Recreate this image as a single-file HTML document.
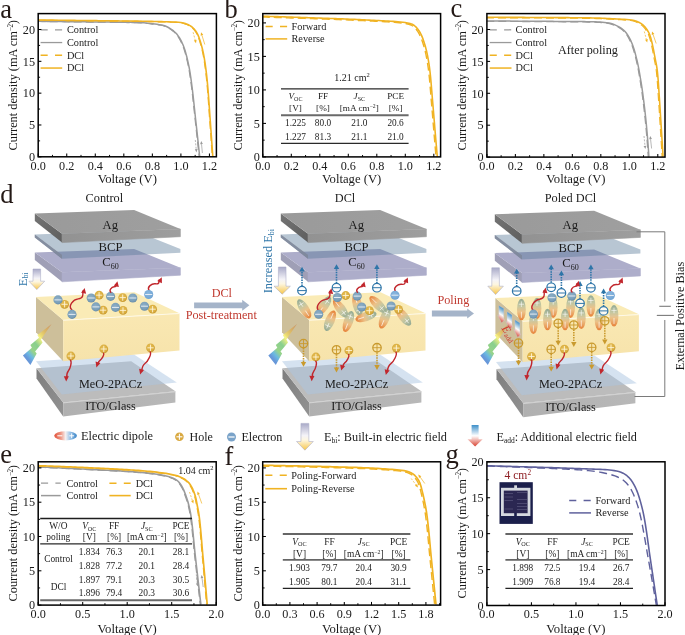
<!DOCTYPE html>
<html><head><meta charset="utf-8"><title>figure</title>
<style>
html,body{margin:0;padding:0;background:#fff;}
body{width:685px;height:635px;overflow:hidden;font-family:"Liberation Serif",serif;}
svg{display:block;font-family:"Liberation Serif",serif;will-change:transform;}
</style></head><body>
<svg width="685" height="635" viewBox="0 0 685 635">
<rect width="685" height="635" fill="#fff"/>
<defs>

<linearGradient id="gItoL" x1="0" y1="0" x2="1" y2="1"><stop offset="0" stop-color="#7e7e7e"/><stop offset="1" stop-color="#929292"/></linearGradient>
<linearGradient id="gAgL" x1="0" y1="0" x2="1" y2="1"><stop offset="0" stop-color="#747474"/><stop offset="1" stop-color="#5e5e5e"/></linearGradient>
<linearGradient id="gAgF" x1="0" y1="0" x2="1" y2="0"><stop offset="0" stop-color="#929292"/><stop offset="1" stop-color="#9e9e9e"/></linearGradient>
<linearGradient id="gAgT" x1="0" y1="0" x2="1" y2="0"><stop offset="0" stop-color="#9a9a9a"/><stop offset="1" stop-color="#9f9f9f"/></linearGradient>
<linearGradient id="gItoF" x1="0" y1="0" x2="1" y2="0"><stop offset="0" stop-color="#b0b0b0"/><stop offset="1" stop-color="#b8b8b8"/></linearGradient>
<linearGradient id="gPvF" x1="0" y1="0" x2="0" y2="1"><stop offset="0" stop-color="#f9e7b0"/><stop offset="1" stop-color="#f6e2a8"/></linearGradient>
<linearGradient id="gEbi" x1="0" y1="0" x2="0" y2="1"><stop offset="0" stop-color="#a9aac8"/><stop offset="0.45" stop-color="#f4f3f8"/><stop offset="0.62" stop-color="#fdf6e0"/><stop offset="1" stop-color="#f7c64a"/></linearGradient>
<linearGradient id="gEadd" x1="0" y1="0" x2="0" y2="1"><stop offset="0" stop-color="#3d8fc9"/><stop offset="0.5" stop-color="#ffffff"/><stop offset="1" stop-color="#d8402f"/></linearGradient>
<linearGradient id="gBolt" gradientUnits="userSpaceOnUse" x1="52" y1="326" x2="22" y2="352"><stop offset="0" stop-color="#c9773c" stop-opacity="0.55"/><stop offset="0.22" stop-color="#e3b54a" stop-opacity="0.7"/><stop offset="0.42" stop-color="#f6f17a"/><stop offset="0.6" stop-color="#7fcb84"/><stop offset="0.78" stop-color="#8fd07f"/><stop offset="0.9" stop-color="#5fb4e0"/><stop offset="1" stop-color="#5b8fd6"/></linearGradient>
<radialGradient id="gEl" cx="0.45" cy="0.4" r="0.62"><stop offset="0" stop-color="#8eb0c8"/><stop offset="0.7" stop-color="#7a9fb9"/><stop offset="1" stop-color="#668aa6"/></radialGradient>
<radialGradient id="gEl2" cx="0.45" cy="0.4" r="0.6"><stop offset="0" stop-color="#8db9e0"/><stop offset="1" stop-color="#6fa3d3"/></radialGradient>
<radialGradient id="gHo" cx="0.45" cy="0.4" r="0.62"><stop offset="0" stop-color="#e8c158"/><stop offset="0.7" stop-color="#d9ad3f"/><stop offset="1" stop-color="#c4952c"/></radialGradient>
<linearGradient id="gDip" x1="0" y1="0" x2="1" y2="0"><stop offset="0" stop-color="#86a291" stop-opacity="0.92"/><stop offset="0.35" stop-color="#b9bf9c" stop-opacity="0.8"/><stop offset="0.6" stop-color="#e9b77c" stop-opacity="0.8"/><stop offset="1" stop-color="#e67a30" stop-opacity="0.95"/></linearGradient>
<linearGradient id="gDipL" x1="0" y1="0" x2="1" y2="0"><stop offset="0" stop-color="#e2523a"/><stop offset="0.3" stop-color="#ee9a88"/><stop offset="0.5" stop-color="#f6f1f1"/><stop offset="0.7" stop-color="#9cc4e8"/><stop offset="1" stop-color="#3a84c6"/></linearGradient>

</defs>
<g transform="translate(0,0)">
<polygon points="36.5,368.3 63.2,402.4 63.2,416.5 36.5,378.6" fill="url(#gItoL)" />
<polygon points="63.2,402.4 175.4,391.3 175.4,402.6 63.2,416.5" fill="url(#gItoF)" />
<polygon points="36.5,368.3 131.2,361.3 175.4,391.3 63.2,402.4" fill="#bcbcbc" />
<line x1="63.2" y1="402.9" x2="175.4" y2="391.8" stroke="#d6d6d6" stroke-width="0.9" />
<polygon points="36,361.3 134,354.5 176.8,382.5 61.8,394.6" fill="rgb(172,198,225)" fill-opacity="0.5"/>
<polygon points="36,297 63.2,320 63.2,361.3 36,332.2" fill="#cdbf9a" />
<polygon points="63.2,320 179.5,313.2 179.5,350.6 63.2,361.3" fill="url(#gPvF)" fill-opacity="0.97"/>
<polygon points="36,297 134.5,292.3 179.5,313.2 63.2,320" fill="#faebb6" />
<line x1="63.2" y1="320.3" x2="179.5" y2="313.5" stroke="#fffdf2" stroke-width="0.8" />
<polygon points="34.8,252.4 62,272.3 62,281.8 34.8,260.1" fill="#9f9fb6" />
<polygon points="62,272.3 180.4,267.7 180.4,275.2 62,281.8" fill="#adadca"  stroke="#adadca" stroke-width="0.6"/>
<polygon points="34.8,252.4 134.1,248.9 180.4,267.7 62,272.3" fill="#adadca" />
<polygon points="34.8,234.4 62,254.9 62,258.7 34.8,237.6" fill="rgb(60,75,100)" fill-opacity="0.42"/>
<polygon points="34.8,234.4 134.1,230.6 180.4,248.9 180.4,252.7 62,258.7 62,254.9" fill="rgb(85,118,150)" fill-opacity="0.42"/>
<polygon points="34.8,234.4 62,254.9 62,258.7 34.8,237.6" fill="#7f8a9c" fill-opacity="0.9"/>
<polygon points="34.8,213.5 62,233.8 62,242.6 34.8,221.1" fill="url(#gAgL)" />
<polygon points="62,233.8 180.4,229 180.4,236.7 62,242.6" fill="url(#gAgF)"  stroke="url(#gAgF)" stroke-width="0.6"/>
<polygon points="34.8,213.5 134.1,210.1 180.4,229 62,233.8" fill="url(#gAgT)" />
<text x="110.3" y="228.6" font-size="12.6" text-anchor="middle" fill="#1a1a1a" >Ag</text>
<text x="110.5" y="251" font-size="12.6" text-anchor="middle" fill="#1a1a1a" >BCP</text>
<text x="110.5" y="266.4" font-size="12.6" text-anchor="middle" fill="#1a1a1a">C<tspan font-size="8" dy="2.6">60</tspan></text>
<text x="110.5" y="387.5" font-size="12.2" text-anchor="middle" fill="#1a1a1a" >MeO-2PACz</text>
<text x="110.5" y="410.2" font-size="12.2" text-anchor="middle" fill="#1a1a1a" >ITO/Glass</text>
</g>
<text x="104.4" y="202.4" font-size="12.3" text-anchor="middle" fill="#1a1a1a" >Control</text>
<polygon transform="translate(0,0)" points="51.6,324.1 37.4,335.1 39,337.8 30.4,344.9 31.9,347.7 22.9,355.6 30.4,365 36.7,353.6 35.1,351.6 42.6,342.6 41,339.4" fill="url(#gBolt)" fill-opacity="0.92"/>
<polygon points="33,269 40.6,269 40.6,281.2 44.7,281.2 36.8,289.6 28.9,281.2 33,281.2" fill="url(#gEbi)" stroke="#a9abc6" stroke-width="0.55"/>
<text transform="translate(26.7,286.3) rotate(-90)" font-size="12.6" fill="#2e75a8">E<tspan font-size="7.8" dy="1.5">bi</tspan></text>
<circle cx="64.6" cy="304.3" r="4.4" fill="url(#gHo)"/>
<line x1="61.43" y1="304.3" x2="67.77" y2="304.3" stroke="#fff6dc" stroke-width="0.85" />
<line x1="64.6" y1="301.13" x2="64.6" y2="307.47" stroke="#fff6dc" stroke-width="0.85" />
<circle cx="99.1" cy="295.2" r="4.4" fill="url(#gHo)"/>
<line x1="95.93" y1="295.2" x2="102.27" y2="295.2" stroke="#fff6dc" stroke-width="0.85" />
<line x1="99.1" y1="292.03" x2="99.1" y2="298.37" stroke="#fff6dc" stroke-width="0.85" />
<circle cx="103.1" cy="310.2" r="4.4" fill="url(#gHo)"/>
<line x1="99.93" y1="310.2" x2="106.27" y2="310.2" stroke="#fff6dc" stroke-width="0.85" />
<line x1="103.1" y1="307.03" x2="103.1" y2="313.37" stroke="#fff6dc" stroke-width="0.85" />
<circle cx="122.7" cy="297.6" r="4.4" fill="url(#gHo)"/>
<line x1="119.53" y1="297.6" x2="125.87" y2="297.6" stroke="#fff6dc" stroke-width="0.85" />
<line x1="122.7" y1="294.43" x2="122.7" y2="300.77" stroke="#fff6dc" stroke-width="0.85" />
<circle cx="123" cy="310.4" r="4.4" fill="url(#gHo)"/>
<line x1="119.83" y1="310.4" x2="126.17" y2="310.4" stroke="#fff6dc" stroke-width="0.85" />
<line x1="123" y1="307.23" x2="123" y2="313.57" stroke="#fff6dc" stroke-width="0.85" />
<circle cx="152.6" cy="309.2" r="4.4" fill="url(#gHo)"/>
<line x1="149.43" y1="309.2" x2="155.77" y2="309.2" stroke="#fff6dc" stroke-width="0.85" />
<line x1="152.6" y1="306.03" x2="152.6" y2="312.37" stroke="#fff6dc" stroke-width="0.85" />
<circle cx="58" cy="299.9" r="4.55" fill="url(#gEl)"/>
<line x1="54.45" y1="299.9" x2="61.55" y2="299.9" stroke="#eef3f7" stroke-width="0.9" />
<circle cx="91.2" cy="298" r="4.55" fill="url(#gEl)"/>
<line x1="87.65" y1="298" x2="94.75" y2="298" stroke="#eef3f7" stroke-width="0.9" />
<circle cx="95.9" cy="306.9" r="4.55" fill="url(#gEl)"/>
<line x1="92.35" y1="306.9" x2="99.45" y2="306.9" stroke="#eef3f7" stroke-width="0.9" />
<circle cx="110.6" cy="296.4" r="4.55" fill="url(#gEl)"/>
<line x1="107.05" y1="296.4" x2="114.15" y2="296.4" stroke="#eef3f7" stroke-width="0.9" />
<circle cx="115.5" cy="307.4" r="4.55" fill="url(#gEl)"/>
<line x1="111.95" y1="307.4" x2="119.05" y2="307.4" stroke="#eef3f7" stroke-width="0.9" />
<circle cx="132.8" cy="298" r="4.55" fill="url(#gEl)"/>
<line x1="129.25" y1="298" x2="136.35" y2="298" stroke="#eef3f7" stroke-width="0.9" />
<circle cx="144.5" cy="306.2" r="4.55" fill="url(#gEl)"/>
<line x1="140.95" y1="306.2" x2="148.05" y2="306.2" stroke="#eef3f7" stroke-width="0.9" />
<path d="M71.8 309.8 C67.64 305.89 73.18 299.47 78.2 298.9 C83.22 298.33 83.33 295.16 82.69 291.26" fill="none" stroke="#c1272d" stroke-width="1.4" stroke-linecap="round"/>
<polygon points="84.6,288 86.12,293.77 81.11,292.84" fill="#c1272d" />
<circle cx="72" cy="314.4" r="4.55" fill="url(#gEl)"/>
<line x1="68.45" y1="314.4" x2="75.55" y2="314.4" stroke="#eef3f7" stroke-width="0.9" />
<path d="M110.8 292.2 C108.71 290.2 111.55 286.96 114.1 286.7 C116.65 286.44 115.76 286.42 115.46 284.44" fill="none" stroke="#c1272d" stroke-width="1.4" stroke-linecap="round"/>
<polygon points="117.4,281.2 118.87,286.99 113.86,286.01" fill="#c1272d" />
<path d="M149 290.4 C146.74 286.92 151.75 283.34 155.4 283.8 C159.05 284.26 158.95 282.78 159.17 279.91" fill="none" stroke="#c1272d" stroke-width="1.4" stroke-linecap="round"/>
<polygon points="161.8,277.2 161.91,283.17 157.26,281.08" fill="#c1272d" />
<circle cx="148.7" cy="294.5" r="4.55" fill="url(#gEl2)"/>
<line x1="145.15" y1="294.5" x2="152.25" y2="294.5" stroke="#eef3f7" stroke-width="0.9" />
<circle cx="70.9" cy="356" r="4.4" fill="url(#gHo)"/>
<line x1="67.73" y1="356" x2="74.07" y2="356" stroke="#fff6dc" stroke-width="0.85" />
<line x1="70.9" y1="352.83" x2="70.9" y2="359.17" stroke="#fff6dc" stroke-width="0.85" />
<circle cx="103.8" cy="349" r="4.4" fill="url(#gHo)"/>
<line x1="100.63" y1="349" x2="106.97" y2="349" stroke="#fff6dc" stroke-width="0.85" />
<line x1="103.8" y1="345.83" x2="103.8" y2="352.17" stroke="#fff6dc" stroke-width="0.85" />
<circle cx="150.5" cy="347.8" r="4.4" fill="url(#gHo)"/>
<line x1="147.33" y1="347.8" x2="153.67" y2="347.8" stroke="#fff6dc" stroke-width="0.85" />
<line x1="150.5" y1="344.63" x2="150.5" y2="350.97" stroke="#fff6dc" stroke-width="0.85" />
<path d="M70.4 360.3 C72.16 361.75 70.24 368.68 68.3 370.95 C66.36 373.22 66.54 375.16 66.93 377.89" fill="none" stroke="#c1272d" stroke-width="1.4" stroke-linecap="round"/>
<polygon points="66.2,381.6 63.79,376.13 68.89,376.27" fill="#c1272d" />
<path d="M103.6 353.3 C104.54 354.67 101.81 359.14 100 360.35 C98.19 361.56 98.39 362.04 98.12 364.03" fill="none" stroke="#c1272d" stroke-width="1.4" stroke-linecap="round"/>
<polygon points="96.4,367.4 95.58,361.48 100.45,363.01" fill="#c1272d" />
<path d="M150.2 352 C151.79 354.05 147.92 361.26 145.2 363.3 C142.48 365.34 141.98 368.01 141.73 371.14" fill="none" stroke="#c1272d" stroke-width="1.4" stroke-linecap="round"/>
<polygon points="140.2,374.6 139.05,368.74 144,369.99" fill="#c1272d" />
<polygon points="194.1,302.4 242.2,302.4 242.2,299.8 249.4,305.3 242.2,310.8 242.2,308.2 194.1,308.2" fill="#a5b4c9" />
<text x="221.8" y="297.3" font-size="12.2" text-anchor="middle" fill="#c0392f" >DCl</text>
<text x="221.3" y="319.3" font-size="12.2" text-anchor="middle" fill="#c0392f" >Post-treatment</text>
<g transform="translate(0,0)">
<polygon points="282.5,368.3 309.2,402.4 309.2,416.5 282.5,378.6" fill="url(#gItoL)" />
<polygon points="309.2,402.4 421.4,391.3 421.4,402.6 309.2,416.5" fill="url(#gItoF)" />
<polygon points="282.5,368.3 377.2,361.3 421.4,391.3 309.2,402.4" fill="#bcbcbc" />
<line x1="309.2" y1="402.9" x2="421.4" y2="391.8" stroke="#d6d6d6" stroke-width="0.9" />
<polygon points="282,361.3 380,354.5 422.8,382.5 307.8,394.6" fill="rgb(172,198,225)" fill-opacity="0.5"/>
<polygon points="282,297 309.2,320 309.2,361.3 282,332.2" fill="#cdbf9a" />
<polygon points="309.2,320 425.5,313.2 425.5,350.6 309.2,361.3" fill="url(#gPvF)" fill-opacity="0.97"/>
<polygon points="282,297 380.5,292.3 425.5,313.2 309.2,320" fill="#faebb6" />
<line x1="309.2" y1="320.3" x2="425.5" y2="313.5" stroke="#fffdf2" stroke-width="0.8" />
<polygon points="280.8,252.4 308,272.3 308,281.8 280.8,260.1" fill="#9f9fb6" />
<polygon points="308,272.3 426.4,267.7 426.4,275.2 308,281.8" fill="#adadca"  stroke="#adadca" stroke-width="0.6"/>
<polygon points="280.8,252.4 380.1,248.9 426.4,267.7 308,272.3" fill="#adadca" />
<polygon points="280.8,234.4 308,254.9 308,258.7 280.8,237.6" fill="rgb(60,75,100)" fill-opacity="0.42"/>
<polygon points="280.8,234.4 380.1,230.6 426.4,248.9 426.4,252.7 308,258.7 308,254.9" fill="rgb(85,118,150)" fill-opacity="0.42"/>
<polygon points="280.8,234.4 308,254.9 308,258.7 280.8,237.6" fill="#7f8a9c" fill-opacity="0.9"/>
<polygon points="280.8,213.5 308,233.8 308,242.6 280.8,221.1" fill="url(#gAgL)" />
<polygon points="308,233.8 426.4,229 426.4,236.7 308,242.6" fill="url(#gAgF)"  stroke="url(#gAgF)" stroke-width="0.6"/>
<polygon points="280.8,213.5 380.1,210.1 426.4,229 308,233.8" fill="url(#gAgT)" />
<text x="356.3" y="228.6" font-size="12.6" text-anchor="middle" fill="#1a1a1a" >Ag</text>
<text x="356.5" y="251" font-size="12.6" text-anchor="middle" fill="#1a1a1a" >BCP</text>
<text x="356.5" y="266.4" font-size="12.6" text-anchor="middle" fill="#1a1a1a">C<tspan font-size="8" dy="2.6">60</tspan></text>
<text x="356.5" y="387.5" font-size="12.2" text-anchor="middle" fill="#1a1a1a" >MeO-2PACz</text>
<text x="356.5" y="410.2" font-size="12.2" text-anchor="middle" fill="#1a1a1a" >ITO/Glass</text>
</g>
<text x="345" y="202.4" font-size="12.3" text-anchor="middle" fill="#1a1a1a" >DCl</text>
<polygon transform="translate(245.4,0)" points="51.6,324.1 37.4,335.1 39,337.8 30.4,344.9 31.9,347.7 22.9,355.6 30.4,365 36.7,353.6 35.1,351.6 42.6,342.6 41,339.4" fill="url(#gBolt)" fill-opacity="0.92"/>
<polygon points="278.4,267 286,267 286,286.2 290.4,286.2 282.2,294.2 274,286.2 278.4,286.2" fill="url(#gEbi)" stroke="#a9abc6" stroke-width="0.55"/>
<text transform="translate(272.2,293.3) rotate(-90)" font-size="12.4" fill="#2e75a8">Increased E<tspan font-size="7.8" dy="1.6">bi</tspan></text>
<g transform="translate(304.2,308.8) rotate(57)">
<ellipse cx="0" cy="0" rx="11" ry="4.7" fill="url(#gDip)"/>
<line x1="-8.36" y1="0" x2="-2.64" y2="0" stroke="#fff" stroke-opacity="0.75" stroke-width="0.8"/>
<line x1="-5.5" y1="-2.82" x2="-5.5" y2="2.82" stroke="#fff" stroke-opacity="0.75" stroke-width="0.8"/>
<line x1="2.2" y1="0" x2="8.36" y2="0" stroke="#fff" stroke-opacity="0.8" stroke-width="0.8"/>
</g>
<g transform="translate(323.9,305.8) rotate(125)">
<ellipse cx="0" cy="0" rx="11" ry="4.7" fill="url(#gDip)"/>
<line x1="-8.36" y1="0" x2="-2.64" y2="0" stroke="#fff" stroke-opacity="0.75" stroke-width="0.8"/>
<line x1="-5.5" y1="-2.82" x2="-5.5" y2="2.82" stroke="#fff" stroke-opacity="0.75" stroke-width="0.8"/>
<line x1="2.2" y1="0" x2="8.36" y2="0" stroke="#fff" stroke-opacity="0.8" stroke-width="0.8"/>
</g>
<g transform="translate(330,320.7) rotate(-67)">
<ellipse cx="0" cy="0" rx="11" ry="4.7" fill="url(#gDip)"/>
<line x1="-8.36" y1="0" x2="-2.64" y2="0" stroke="#fff" stroke-opacity="0.75" stroke-width="0.8"/>
<line x1="-5.5" y1="-2.82" x2="-5.5" y2="2.82" stroke="#fff" stroke-opacity="0.75" stroke-width="0.8"/>
<line x1="2.2" y1="0" x2="8.36" y2="0" stroke="#fff" stroke-opacity="0.8" stroke-width="0.8"/>
</g>
<g transform="translate(340.5,308.4) rotate(233)">
<ellipse cx="0" cy="0" rx="11" ry="4.7" fill="url(#gDip)"/>
<line x1="-8.36" y1="0" x2="-2.64" y2="0" stroke="#fff" stroke-opacity="0.75" stroke-width="0.8"/>
<line x1="-5.5" y1="-2.82" x2="-5.5" y2="2.82" stroke="#fff" stroke-opacity="0.75" stroke-width="0.8"/>
<line x1="2.2" y1="0" x2="8.36" y2="0" stroke="#fff" stroke-opacity="0.8" stroke-width="0.8"/>
</g>
<g transform="translate(348.4,321.5) rotate(110)">
<ellipse cx="0" cy="0" rx="11" ry="4.7" fill="url(#gDip)"/>
<line x1="-8.36" y1="0" x2="-2.64" y2="0" stroke="#fff" stroke-opacity="0.75" stroke-width="0.8"/>
<line x1="-5.5" y1="-2.82" x2="-5.5" y2="2.82" stroke="#fff" stroke-opacity="0.75" stroke-width="0.8"/>
<line x1="2.2" y1="0" x2="8.36" y2="0" stroke="#fff" stroke-opacity="0.8" stroke-width="0.8"/>
</g>
<g transform="translate(357.5,305) rotate(255)">
<ellipse cx="0" cy="0" rx="11" ry="4.7" fill="url(#gDip)"/>
<line x1="-8.36" y1="0" x2="-2.64" y2="0" stroke="#fff" stroke-opacity="0.75" stroke-width="0.8"/>
<line x1="-5.5" y1="-2.82" x2="-5.5" y2="2.82" stroke="#fff" stroke-opacity="0.75" stroke-width="0.8"/>
<line x1="2.2" y1="0" x2="8.36" y2="0" stroke="#fff" stroke-opacity="0.8" stroke-width="0.8"/>
</g>
<g transform="translate(366,316.6) rotate(162)">
<ellipse cx="0" cy="0" rx="11" ry="4.7" fill="url(#gDip)"/>
<line x1="-8.36" y1="0" x2="-2.64" y2="0" stroke="#fff" stroke-opacity="0.75" stroke-width="0.8"/>
<line x1="-5.5" y1="-2.82" x2="-5.5" y2="2.82" stroke="#fff" stroke-opacity="0.75" stroke-width="0.8"/>
<line x1="2.2" y1="0" x2="8.36" y2="0" stroke="#fff" stroke-opacity="0.8" stroke-width="0.8"/>
</g>
<g transform="translate(377.8,304.4) rotate(225)">
<ellipse cx="0" cy="0" rx="11" ry="4.7" fill="url(#gDip)"/>
<line x1="-8.36" y1="0" x2="-2.64" y2="0" stroke="#fff" stroke-opacity="0.75" stroke-width="0.8"/>
<line x1="-5.5" y1="-2.82" x2="-5.5" y2="2.82" stroke="#fff" stroke-opacity="0.75" stroke-width="0.8"/>
<line x1="2.2" y1="0" x2="8.36" y2="0" stroke="#fff" stroke-opacity="0.8" stroke-width="0.8"/>
</g>
<g transform="translate(384.7,318.2) rotate(112)">
<ellipse cx="0" cy="0" rx="11" ry="4.7" fill="url(#gDip)"/>
<line x1="-8.36" y1="0" x2="-2.64" y2="0" stroke="#fff" stroke-opacity="0.75" stroke-width="0.8"/>
<line x1="-5.5" y1="-2.82" x2="-5.5" y2="2.82" stroke="#fff" stroke-opacity="0.75" stroke-width="0.8"/>
<line x1="2.2" y1="0" x2="8.36" y2="0" stroke="#fff" stroke-opacity="0.8" stroke-width="0.8"/>
</g>
<g transform="translate(403.5,316.6) rotate(232)">
<ellipse cx="0" cy="0" rx="11" ry="4.7" fill="url(#gDip)"/>
<line x1="-8.36" y1="0" x2="-2.64" y2="0" stroke="#fff" stroke-opacity="0.75" stroke-width="0.8"/>
<line x1="-5.5" y1="-2.82" x2="-5.5" y2="2.82" stroke="#fff" stroke-opacity="0.75" stroke-width="0.8"/>
<line x1="2.2" y1="0" x2="8.36" y2="0" stroke="#fff" stroke-opacity="0.8" stroke-width="0.8"/>
</g>
<circle cx="345.7" cy="295.5" r="4.4" fill="url(#gHo)"/>
<line x1="342.53" y1="295.5" x2="348.87" y2="295.5" stroke="#fff6dc" stroke-width="0.85" />
<line x1="345.7" y1="292.33" x2="345.7" y2="298.67" stroke="#fff6dc" stroke-width="0.85" />
<circle cx="369.4" cy="310.7" r="4.4" fill="url(#gHo)"/>
<line x1="366.23" y1="310.7" x2="372.57" y2="310.7" stroke="#fff6dc" stroke-width="0.85" />
<line x1="369.4" y1="307.53" x2="369.4" y2="313.87" stroke="#fff6dc" stroke-width="0.85" />
<circle cx="398.5" cy="309.3" r="4.4" fill="url(#gHo)"/>
<line x1="395.33" y1="309.3" x2="401.67" y2="309.3" stroke="#fff6dc" stroke-width="0.85" />
<line x1="398.5" y1="306.13" x2="398.5" y2="312.47" stroke="#fff6dc" stroke-width="0.85" />
<circle cx="337.4" cy="297.5" r="4.55" fill="url(#gEl)"/>
<line x1="333.85" y1="297.5" x2="340.95" y2="297.5" stroke="#eef3f7" stroke-width="0.9" />
<circle cx="357.2" cy="296.1" r="4.55" fill="url(#gEl)"/>
<line x1="353.65" y1="296.1" x2="360.75" y2="296.1" stroke="#eef3f7" stroke-width="0.9" />
<circle cx="361.7" cy="307" r="4.55" fill="url(#gEl)"/>
<line x1="358.15" y1="307" x2="365.25" y2="307" stroke="#eef3f7" stroke-width="0.9" />
<circle cx="391.1" cy="306" r="4.55" fill="url(#gEl)"/>
<line x1="387.55" y1="306" x2="394.65" y2="306" stroke="#eef3f7" stroke-width="0.9" />
<line x1="302" y1="286.1" x2="302" y2="270.6" stroke="#2e75a8" stroke-width="1.6" stroke-dasharray="1.5 1.0"/>
<polygon points="302,266.8 299.3,271.6 304.7,271.6" fill="#2e75a8" />
<circle cx="302" cy="290.6" r="4.3" fill="#fdfdfd" fill-opacity="0.85" stroke="#2e75a8" stroke-width="1.2"/>
<line x1="297.7" y1="290.6" x2="306.3" y2="290.6" stroke="#2e75a8" stroke-width="1.0" />
<line x1="336.5" y1="283.2" x2="336.5" y2="268" stroke="#2e75a8" stroke-width="1.6" stroke-dasharray="1.5 1.0"/>
<polygon points="336.5,264.2 333.8,269 339.2,269" fill="#2e75a8" />
<circle cx="336.5" cy="287.7" r="4.3" fill="#fdfdfd" fill-opacity="0.85" stroke="#2e75a8" stroke-width="1.2"/>
<line x1="332.2" y1="287.7" x2="340.8" y2="287.7" stroke="#2e75a8" stroke-width="1.0" />
<line x1="376.9" y1="283.2" x2="376.9" y2="268" stroke="#2e75a8" stroke-width="1.6" stroke-dasharray="1.5 1.0"/>
<polygon points="376.9,264.2 374.2,269 379.6,269" fill="#2e75a8" />
<circle cx="376.9" cy="287.7" r="4.3" fill="#fdfdfd" fill-opacity="0.85" stroke="#2e75a8" stroke-width="1.2"/>
<line x1="372.6" y1="287.7" x2="381.2" y2="287.7" stroke="#2e75a8" stroke-width="1.0" />
<path d="M318.9 311 C314.51 307.11 320 300.34 325.15 299.6 C330.3 298.86 330.36 295.5 329.58 291.51" fill="none" stroke="#c1272d" stroke-width="1.4" stroke-linecap="round"/>
<polygon points="331.4,288.2 333.09,293.93 328.05,293.14" fill="#c1272d" />
<circle cx="318.7" cy="314.3" r="4.55" fill="url(#gEl)"/>
<line x1="315.15" y1="314.3" x2="322.25" y2="314.3" stroke="#eef3f7" stroke-width="0.9" />
<path d="M357.4 292.2 C355.37 290.12 358.33 286.98 360.9 286.8 C363.47 286.62 362.58 286.57 362.34 284.57" fill="none" stroke="#c1272d" stroke-width="1.4" stroke-linecap="round"/>
<polygon points="364.4,281.4 365.67,287.24 360.7,286.08" fill="#c1272d" />
<path d="M395.3 291.2 C392.89 287.76 397.84 283.96 401.55 284.3 C405.26 284.64 405.14 283.11 405.26 280.2" fill="none" stroke="#c1272d" stroke-width="1.4" stroke-linecap="round"/>
<polygon points="407.8,277.4 408.11,283.36 403.39,281.43" fill="#c1272d" />
<circle cx="395" cy="295.2" r="4.55" fill="url(#gEl2)"/>
<line x1="391.45" y1="295.2" x2="398.55" y2="295.2" stroke="#eef3f7" stroke-width="0.9" />
<line x1="303.5" y1="348.1" x2="303.5" y2="363" stroke="#c99a2e" stroke-width="1.6" stroke-dasharray="1.5 1.0"/>
<polygon points="303.5,366.8 300.8,362 306.2,362" fill="#c99a2e" />
<circle cx="303.5" cy="343.6" r="4.2" fill="none" stroke="#c99a2e" stroke-width="1.3"/>
<line x1="299.3" y1="343.6" x2="307.7" y2="343.6" stroke="#c99a2e" stroke-width="0.9" />
<line x1="303.5" y1="339.4" x2="303.5" y2="347.8" stroke="#c99a2e" stroke-width="0.9" />
<line x1="336.5" y1="354.3" x2="336.5" y2="368.6" stroke="#c99a2e" stroke-width="1.6" stroke-dasharray="1.5 1.0"/>
<polygon points="336.5,372.4 333.8,367.6 339.2,367.6" fill="#c99a2e" />
<circle cx="336.5" cy="349.8" r="4.2" fill="none" stroke="#c99a2e" stroke-width="1.3"/>
<line x1="332.3" y1="349.8" x2="340.7" y2="349.8" stroke="#c99a2e" stroke-width="0.9" />
<line x1="336.5" y1="345.6" x2="336.5" y2="354" stroke="#c99a2e" stroke-width="0.9" />
<line x1="377" y1="352.2" x2="377" y2="366.1" stroke="#c99a2e" stroke-width="1.6" stroke-dasharray="1.5 1.0"/>
<polygon points="377,369.9 374.3,365.1 379.7,365.1" fill="#c99a2e" />
<circle cx="377" cy="347.7" r="4.2" fill="none" stroke="#c99a2e" stroke-width="1.3"/>
<line x1="372.8" y1="347.7" x2="381.2" y2="347.7" stroke="#c99a2e" stroke-width="0.9" />
<line x1="377" y1="343.5" x2="377" y2="351.9" stroke="#c99a2e" stroke-width="0.9" />
<circle cx="315.9" cy="357" r="4.4" fill="url(#gHo)"/>
<line x1="312.73" y1="357" x2="319.07" y2="357" stroke="#fff6dc" stroke-width="0.85" />
<line x1="315.9" y1="353.83" x2="315.9" y2="360.17" stroke="#fff6dc" stroke-width="0.85" />
<circle cx="348.9" cy="350.5" r="4.4" fill="url(#gHo)"/>
<line x1="345.73" y1="350.5" x2="352.07" y2="350.5" stroke="#fff6dc" stroke-width="0.85" />
<line x1="348.9" y1="347.33" x2="348.9" y2="353.67" stroke="#fff6dc" stroke-width="0.85" />
<circle cx="396.4" cy="348.1" r="4.4" fill="url(#gHo)"/>
<line x1="393.23" y1="348.1" x2="399.57" y2="348.1" stroke="#fff6dc" stroke-width="0.85" />
<line x1="396.4" y1="344.93" x2="396.4" y2="351.27" stroke="#fff6dc" stroke-width="0.85" />
<path d="M315.8 361.2 C317.44 362.58 315.59 369.08 313.75 371.2 C311.91 373.32 312.11 374.92 312.46 377.5" fill="none" stroke="#c1272d" stroke-width="1.4" stroke-linecap="round"/>
<polygon points="311.7,381.2 309.33,375.72 314.43,375.89" fill="#c1272d" />
<path d="M348.7 354.6 C349.8 356.09 346.93 361.18 344.95 362.6 C342.97 364.02 343.03 364.94 342.8 367.18" fill="none" stroke="#c1272d" stroke-width="1.4" stroke-linecap="round"/>
<polygon points="341.2,370.6 340.18,364.72 345.1,366.08" fill="#c1272d" />
<path d="M396 352.3 C397.59 354.38 393.65 361.61 390.9 363.65 C388.15 365.69 387.62 368.4 387.35 371.55" fill="none" stroke="#c1272d" stroke-width="1.4" stroke-linecap="round"/>
<polygon points="385.8,375 384.69,369.13 389.62,370.41" fill="#c1272d" />
<polygon points="431.9,310.6 467.2,310.6 467.2,308.4 474,313.5 467.2,318.6 467.2,316.4 431.9,316.4" fill="#a5b4c9" />
<text x="453.4" y="303.7" font-size="12.2" text-anchor="middle" fill="#c0392f" >Poling</text>
<g transform="translate(0,0.7)">
<polygon points="496.5,368.3 523.2,402.4 523.2,416.5 496.5,378.6" fill="url(#gItoL)" />
<polygon points="523.2,402.4 635.4,391.3 635.4,402.6 523.2,416.5" fill="url(#gItoF)" />
<polygon points="496.5,368.3 591.2,361.3 635.4,391.3 523.2,402.4" fill="#bcbcbc" />
<line x1="523.2" y1="402.9" x2="635.4" y2="391.8" stroke="#d6d6d6" stroke-width="0.9" />
<polygon points="496,361.3 594,354.5 636.8,382.5 521.8,394.6" fill="rgb(172,198,225)" fill-opacity="0.5"/>
<polygon points="495.4,297.4 522.6,320.4 522.6,361.42 495.4,332.6" fill="#cdbf9a" />
<polygon points="522.6,320.4 638.9,313.6 638.9,350.6 522.6,361.42" fill="url(#gPvF)" fill-opacity="0.97"/>
<polygon points="495.4,297.4 593.9,292.7 638.9,313.6 522.6,320.4" fill="#faebb6" />
<line x1="522.6" y1="320.7" x2="638.9" y2="313.9" stroke="#fffdf2" stroke-width="0.8" />
<polygon points="494.8,252.4 522,272.3 522,281.8 494.8,260.1" fill="#9f9fb6" />
<polygon points="522,272.3 640.4,267.7 640.4,275.2 522,281.8" fill="#adadca"  stroke="#adadca" stroke-width="0.6"/>
<polygon points="494.8,252.4 594.1,248.9 640.4,267.7 522,272.3" fill="#adadca" />
<polygon points="494.8,234.4 522,254.9 522,258.7 494.8,237.6" fill="rgb(60,75,100)" fill-opacity="0.42"/>
<polygon points="494.8,234.4 594.1,230.6 640.4,248.9 640.4,252.7 522,258.7 522,254.9" fill="rgb(85,118,150)" fill-opacity="0.42"/>
<polygon points="494.8,234.4 522,254.9 522,258.7 494.8,237.6" fill="#7f8a9c" fill-opacity="0.9"/>
<polygon points="494.8,213.5 522,233.8 522,242.6 494.8,221.1" fill="url(#gAgL)" />
<polygon points="522,233.8 640.4,229 640.4,236.7 522,242.6" fill="url(#gAgF)"  stroke="url(#gAgF)" stroke-width="0.6"/>
<polygon points="494.8,213.5 594.1,210.1 640.4,229 522,233.8" fill="url(#gAgT)" />
<text x="570.3" y="228.6" font-size="12.6" text-anchor="middle" fill="#1a1a1a" >Ag</text>
<text x="570.5" y="251" font-size="12.6" text-anchor="middle" fill="#1a1a1a" >BCP</text>
<text x="570.5" y="266.4" font-size="12.6" text-anchor="middle" fill="#1a1a1a">C<tspan font-size="8" dy="2.6">60</tspan></text>
<text x="570.5" y="387.5" font-size="12.2" text-anchor="middle" fill="#1a1a1a" >MeO-2PACz</text>
<text x="570.5" y="410.2" font-size="12.2" text-anchor="middle" fill="#1a1a1a" >ITO/Glass</text>
</g>
<text x="570.5" y="202.4" font-size="12.3" text-anchor="middle" fill="#1a1a1a" >Poled DCl</text>
<g transform="translate(501.3,314.6) skewY(33)" opacity="0.95">
<polygon points="-2.5,-7.6 2.5,-7.6 2.5,3 3.7,3 0.3,8 -3.7,3 -2.5,3" fill="url(#gEadd)" stroke="#c9c3d6" stroke-width="0.35"/>
</g>
<g transform="translate(509.5,320.9) skewY(33)" opacity="0.95">
<polygon points="-2.5,-7.6 2.5,-7.6 2.5,3 3.7,3 0.3,8 -3.7,3 -2.5,3" fill="url(#gEadd)" stroke="#c9c3d6" stroke-width="0.35"/>
</g>
<g transform="translate(517.4,329) skewY(33)" opacity="0.95">
<polygon points="-2.5,-7.6 2.5,-7.6 2.5,3 3.7,3 0.3,8 -3.7,3 -2.5,3" fill="url(#gEadd)" stroke="#c9c3d6" stroke-width="0.35"/>
</g>
<polygon transform="translate(457.4,0)" points="51.6,324.1 37.4,335.1 39,337.8 30.4,344.9 31.9,347.7 22.9,355.6 30.4,365 36.7,353.6 35.1,351.6 42.6,342.6 41,339.4" fill="url(#gBolt)" fill-opacity="0.92"/>
<text transform="translate(501.3,328.4) rotate(56)" font-size="11.5" font-style="italic" fill="#cf3a30">E<tspan font-size="7.2" dy="1.8" font-style="normal">add</tspan></text>
<polygon points="491.8,267.8 499.4,267.8 499.4,286.2 503.4,286.2 495.6,294.6 487.8,286.2 491.8,286.2" fill="url(#gEbi)" stroke="#a9abc6" stroke-width="0.55"/>
<g transform="translate(521.4,309.6) rotate(90)">
<ellipse cx="0" cy="0" rx="10.75" ry="4.4" fill="url(#gDip)"/>
<line x1="-8.17" y1="0" x2="-2.58" y2="0" stroke="#fff" stroke-opacity="0.75" stroke-width="0.8"/>
<line x1="-5.38" y1="-2.64" x2="-5.38" y2="2.64" stroke="#fff" stroke-opacity="0.75" stroke-width="0.8"/>
<line x1="2.15" y1="0" x2="8.17" y2="0" stroke="#fff" stroke-opacity="0.8" stroke-width="0.8"/>
</g>
<g transform="translate(537,308.4) rotate(90)">
<ellipse cx="0" cy="0" rx="10.75" ry="4.4" fill="url(#gDip)"/>
<line x1="-8.17" y1="0" x2="-2.58" y2="0" stroke="#fff" stroke-opacity="0.75" stroke-width="0.8"/>
<line x1="-5.38" y1="-2.64" x2="-5.38" y2="2.64" stroke="#fff" stroke-opacity="0.75" stroke-width="0.8"/>
<line x1="2.15" y1="0" x2="8.17" y2="0" stroke="#fff" stroke-opacity="0.8" stroke-width="0.8"/>
</g>
<g transform="translate(553.2,307.2) rotate(90)">
<ellipse cx="0" cy="0" rx="10.75" ry="4.4" fill="url(#gDip)"/>
<line x1="-8.17" y1="0" x2="-2.58" y2="0" stroke="#fff" stroke-opacity="0.75" stroke-width="0.8"/>
<line x1="-5.38" y1="-2.64" x2="-5.38" y2="2.64" stroke="#fff" stroke-opacity="0.75" stroke-width="0.8"/>
<line x1="2.15" y1="0" x2="8.17" y2="0" stroke="#fff" stroke-opacity="0.8" stroke-width="0.8"/>
</g>
<g transform="translate(570.6,307.2) rotate(90)">
<ellipse cx="0" cy="0" rx="10.75" ry="4.4" fill="url(#gDip)"/>
<line x1="-8.17" y1="0" x2="-2.58" y2="0" stroke="#fff" stroke-opacity="0.75" stroke-width="0.8"/>
<line x1="-5.38" y1="-2.64" x2="-5.38" y2="2.64" stroke="#fff" stroke-opacity="0.75" stroke-width="0.8"/>
<line x1="2.15" y1="0" x2="8.17" y2="0" stroke="#fff" stroke-opacity="0.8" stroke-width="0.8"/>
</g>
<g transform="translate(590.9,305.9) rotate(90)">
<ellipse cx="0" cy="0" rx="10.75" ry="4.4" fill="url(#gDip)"/>
<line x1="-8.17" y1="0" x2="-2.58" y2="0" stroke="#fff" stroke-opacity="0.75" stroke-width="0.8"/>
<line x1="-5.38" y1="-2.64" x2="-5.38" y2="2.64" stroke="#fff" stroke-opacity="0.75" stroke-width="0.8"/>
<line x1="2.15" y1="0" x2="8.17" y2="0" stroke="#fff" stroke-opacity="0.8" stroke-width="0.8"/>
</g>
<g transform="translate(614,315.8) rotate(90)">
<ellipse cx="0" cy="0" rx="10.75" ry="4.4" fill="url(#gDip)"/>
<line x1="-8.17" y1="0" x2="-2.58" y2="0" stroke="#fff" stroke-opacity="0.75" stroke-width="0.8"/>
<line x1="-5.38" y1="-2.64" x2="-5.38" y2="2.64" stroke="#fff" stroke-opacity="0.75" stroke-width="0.8"/>
<line x1="2.15" y1="0" x2="8.17" y2="0" stroke="#fff" stroke-opacity="0.8" stroke-width="0.8"/>
</g>
<g transform="translate(533.4,323.3) rotate(90)">
<ellipse cx="0" cy="0" rx="10.75" ry="4.4" fill="url(#gDip)"/>
<line x1="-8.17" y1="0" x2="-2.58" y2="0" stroke="#fff" stroke-opacity="0.75" stroke-width="0.8"/>
<line x1="-5.38" y1="-2.64" x2="-5.38" y2="2.64" stroke="#fff" stroke-opacity="0.75" stroke-width="0.8"/>
<line x1="2.15" y1="0" x2="8.17" y2="0" stroke="#fff" stroke-opacity="0.8" stroke-width="0.8"/>
</g>
<g transform="translate(547.5,319.6) rotate(90)">
<ellipse cx="0" cy="0" rx="10.75" ry="4.4" fill="url(#gDip)"/>
<line x1="-8.17" y1="0" x2="-2.58" y2="0" stroke="#fff" stroke-opacity="0.75" stroke-width="0.8"/>
<line x1="-5.38" y1="-2.64" x2="-5.38" y2="2.64" stroke="#fff" stroke-opacity="0.75" stroke-width="0.8"/>
<line x1="2.15" y1="0" x2="8.17" y2="0" stroke="#fff" stroke-opacity="0.8" stroke-width="0.8"/>
</g>
<g transform="translate(565.1,319.6) rotate(90)">
<ellipse cx="0" cy="0" rx="10.75" ry="4.4" fill="url(#gDip)"/>
<line x1="-8.17" y1="0" x2="-2.58" y2="0" stroke="#fff" stroke-opacity="0.75" stroke-width="0.8"/>
<line x1="-5.38" y1="-2.64" x2="-5.38" y2="2.64" stroke="#fff" stroke-opacity="0.75" stroke-width="0.8"/>
<line x1="2.15" y1="0" x2="8.17" y2="0" stroke="#fff" stroke-opacity="0.8" stroke-width="0.8"/>
</g>
<g transform="translate(581.3,318.3) rotate(90)">
<ellipse cx="0" cy="0" rx="10.75" ry="4.4" fill="url(#gDip)"/>
<line x1="-8.17" y1="0" x2="-2.58" y2="0" stroke="#fff" stroke-opacity="0.75" stroke-width="0.8"/>
<line x1="-5.38" y1="-2.64" x2="-5.38" y2="2.64" stroke="#fff" stroke-opacity="0.75" stroke-width="0.8"/>
<line x1="2.15" y1="0" x2="8.17" y2="0" stroke="#fff" stroke-opacity="0.8" stroke-width="0.8"/>
</g>
<g transform="translate(599.1,319.6) rotate(90)">
<ellipse cx="0" cy="0" rx="10.75" ry="4.4" fill="url(#gDip)"/>
<line x1="-8.17" y1="0" x2="-2.58" y2="0" stroke="#fff" stroke-opacity="0.75" stroke-width="0.8"/>
<line x1="-5.38" y1="-2.64" x2="-5.38" y2="2.64" stroke="#fff" stroke-opacity="0.75" stroke-width="0.8"/>
<line x1="2.15" y1="0" x2="8.17" y2="0" stroke="#fff" stroke-opacity="0.8" stroke-width="0.8"/>
</g>
<circle cx="552" cy="297.7" r="4.55" fill="url(#gEl)"/>
<line x1="548.45" y1="297.7" x2="555.55" y2="297.7" stroke="#eef3f7" stroke-width="0.9" />
<circle cx="571.8" cy="296" r="4.55" fill="url(#gEl)"/>
<line x1="568.25" y1="296" x2="575.35" y2="296" stroke="#eef3f7" stroke-width="0.9" />
<line x1="516.7" y1="286.5" x2="516.7" y2="272.5" stroke="#2e75a8" stroke-width="1.6" stroke-dasharray="1.5 1.0"/>
<polygon points="516.7,268.7 514,273.5 519.4,273.5" fill="#2e75a8" />
<circle cx="516.7" cy="291" r="4.3" fill="#fdfdfd" fill-opacity="0.85" stroke="#2e75a8" stroke-width="1.2"/>
<line x1="512.4" y1="291" x2="521" y2="291" stroke="#2e75a8" stroke-width="1.0" />
<line x1="551.2" y1="282.8" x2="551.2" y2="268.3" stroke="#2e75a8" stroke-width="1.6" stroke-dasharray="1.5 1.0"/>
<polygon points="551.2,264.5 548.5,269.3 553.9,269.3" fill="#2e75a8" />
<circle cx="551.2" cy="287.3" r="4.3" fill="#fdfdfd" fill-opacity="0.85" stroke="#2e75a8" stroke-width="1.2"/>
<line x1="546.9" y1="287.3" x2="555.5" y2="287.3" stroke="#2e75a8" stroke-width="1.0" />
<line x1="561.4" y1="288.5" x2="561.4" y2="274.2" stroke="#2e75a8" stroke-width="1.6" stroke-dasharray="1.5 1.0"/>
<polygon points="561.4,270.4 558.7,275.2 564.1,275.2" fill="#2e75a8" />
<circle cx="561.4" cy="293" r="4.3" fill="#fdfdfd" fill-opacity="0.85" stroke="#2e75a8" stroke-width="1.2"/>
<line x1="557.1" y1="293" x2="565.7" y2="293" stroke="#2e75a8" stroke-width="1.0" />
<line x1="580" y1="298.9" x2="580" y2="284.9" stroke="#2e75a8" stroke-width="1.6" stroke-dasharray="1.5 1.0"/>
<polygon points="580,281.1 577.3,285.9 582.7,285.9" fill="#2e75a8" />
<circle cx="580" cy="303.4" r="4.3" fill="#fdfdfd" fill-opacity="0.85" stroke="#2e75a8" stroke-width="1.2"/>
<line x1="575.7" y1="303.4" x2="584.3" y2="303.4" stroke="#2e75a8" stroke-width="1.0" />
<line x1="590.9" y1="283.3" x2="590.9" y2="268.3" stroke="#2e75a8" stroke-width="1.6" stroke-dasharray="1.5 1.0"/>
<polygon points="590.9,264.5 588.2,269.3 593.6,269.3" fill="#2e75a8" />
<circle cx="590.9" cy="287.8" r="4.3" fill="#fdfdfd" fill-opacity="0.85" stroke="#2e75a8" stroke-width="1.2"/>
<line x1="586.6" y1="287.8" x2="595.2" y2="287.8" stroke="#2e75a8" stroke-width="1.0" />
<line x1="603.6" y1="306.4" x2="603.6" y2="292.3" stroke="#2e75a8" stroke-width="1.6" stroke-dasharray="1.5 1.0"/>
<polygon points="603.6,288.5 600.9,293.3 606.3,293.3" fill="#2e75a8" />
<circle cx="603.6" cy="310.9" r="4.3" fill="#fdfdfd" fill-opacity="0.85" stroke="#2e75a8" stroke-width="1.2"/>
<line x1="599.3" y1="310.9" x2="607.9" y2="310.9" stroke="#2e75a8" stroke-width="1.0" />
<path d="M533.6 310.8 C529.1 307 534.45 300.06 539.6 299.2 C544.75 298.34 544.74 294.94 543.86 290.96" fill="none" stroke="#c1272d" stroke-width="1.4" stroke-linecap="round"/>
<polygon points="545.6,287.6 547.43,293.28 542.37,292.62" fill="#c1272d" />
<circle cx="533.4" cy="314.1" r="4.55" fill="url(#gEl)"/>
<line x1="529.85" y1="314.1" x2="536.95" y2="314.1" stroke="#eef3f7" stroke-width="0.9" />
<path d="M572 292 C569.87 289.99 572.72 286.69 575.3 286.4 C577.88 286.11 577.01 286.06 576.68 284.06" fill="none" stroke="#c1272d" stroke-width="1.4" stroke-linecap="round"/>
<polygon points="578.6,280.8 580.11,286.58 575.1,285.64" fill="#c1272d" />
<path d="M610.6 291.5 C608.14 288.17 612.94 284.3 616.6 284.55 C620.26 284.8 620.08 283.33 620.13 280.46" fill="none" stroke="#c1272d" stroke-width="1.4" stroke-linecap="round"/>
<polygon points="622.6,277.6 623.06,283.55 618.29,281.73" fill="#c1272d" />
<circle cx="610.3" cy="295.5" r="4.55" fill="url(#gEl2)"/>
<line x1="606.75" y1="295.5" x2="613.85" y2="295.5" stroke="#eef3f7" stroke-width="0.9" />
<line x1="558.2" y1="327.8" x2="558.2" y2="341.8" stroke="#c99a2e" stroke-width="1.6" stroke-dasharray="1.5 1.0"/>
<polygon points="558.2,345.6 555.5,340.8 560.9,340.8" fill="#c99a2e" />
<circle cx="558.2" cy="323.3" r="4.2" fill="none" stroke="#c99a2e" stroke-width="1.3"/>
<line x1="554" y1="323.3" x2="562.4" y2="323.3" stroke="#c99a2e" stroke-width="0.9" />
<line x1="558.2" y1="319.1" x2="558.2" y2="327.5" stroke="#c99a2e" stroke-width="0.9" />
<line x1="573.8" y1="329.5" x2="573.8" y2="343.1" stroke="#c99a2e" stroke-width="1.6" stroke-dasharray="1.5 1.0"/>
<polygon points="573.8,346.9 571.1,342.1 576.5,342.1" fill="#c99a2e" />
<circle cx="573.8" cy="325" r="4.2" fill="none" stroke="#c99a2e" stroke-width="1.3"/>
<line x1="569.6" y1="325" x2="578" y2="325" stroke="#c99a2e" stroke-width="0.9" />
<line x1="573.8" y1="320.8" x2="573.8" y2="329.2" stroke="#c99a2e" stroke-width="0.9" />
<line x1="604.8" y1="325.3" x2="604.8" y2="340.6" stroke="#c99a2e" stroke-width="1.6" stroke-dasharray="1.5 1.0"/>
<polygon points="604.8,344.4 602.1,339.6 607.5,339.6" fill="#c99a2e" />
<circle cx="604.8" cy="320.8" r="4.2" fill="none" stroke="#c99a2e" stroke-width="1.3"/>
<line x1="600.6" y1="320.8" x2="609" y2="320.8" stroke="#c99a2e" stroke-width="0.9" />
<line x1="604.8" y1="316.6" x2="604.8" y2="325" stroke="#c99a2e" stroke-width="0.9" />
<line x1="518.5" y1="347.6" x2="518.5" y2="361.7" stroke="#c99a2e" stroke-width="1.6" stroke-dasharray="1.5 1.0"/>
<polygon points="518.5,365.5 515.8,360.7 521.2,360.7" fill="#c99a2e" />
<circle cx="518.5" cy="343.1" r="4.2" fill="none" stroke="#c99a2e" stroke-width="1.3"/>
<line x1="514.3" y1="343.1" x2="522.7" y2="343.1" stroke="#c99a2e" stroke-width="0.9" />
<line x1="518.5" y1="338.9" x2="518.5" y2="347.3" stroke="#c99a2e" stroke-width="0.9" />
<line x1="551.2" y1="353.9" x2="551.2" y2="367.7" stroke="#c99a2e" stroke-width="1.6" stroke-dasharray="1.5 1.0"/>
<polygon points="551.2,371.5 548.5,366.7 553.9,366.7" fill="#c99a2e" />
<circle cx="551.2" cy="349.4" r="4.2" fill="none" stroke="#c99a2e" stroke-width="1.3"/>
<line x1="547" y1="349.4" x2="555.4" y2="349.4" stroke="#c99a2e" stroke-width="0.9" />
<line x1="551.2" y1="345.2" x2="551.2" y2="353.6" stroke="#c99a2e" stroke-width="0.9" />
<line x1="591.7" y1="351.9" x2="591.7" y2="365.8" stroke="#c99a2e" stroke-width="1.6" stroke-dasharray="1.5 1.0"/>
<polygon points="591.7,369.6 589,364.8 594.4,364.8" fill="#c99a2e" />
<circle cx="591.7" cy="347.4" r="4.2" fill="none" stroke="#c99a2e" stroke-width="1.3"/>
<line x1="587.5" y1="347.4" x2="595.9" y2="347.4" stroke="#c99a2e" stroke-width="0.9" />
<line x1="591.7" y1="343.2" x2="591.7" y2="351.6" stroke="#c99a2e" stroke-width="0.9" />
<circle cx="531.5" cy="356.5" r="4.4" fill="url(#gHo)"/>
<line x1="528.33" y1="356.5" x2="534.67" y2="356.5" stroke="#fff6dc" stroke-width="0.85" />
<line x1="531.5" y1="353.33" x2="531.5" y2="359.67" stroke="#fff6dc" stroke-width="0.85" />
<circle cx="564.4" cy="349.2" r="4.4" fill="url(#gHo)"/>
<line x1="561.23" y1="349.2" x2="567.57" y2="349.2" stroke="#fff6dc" stroke-width="0.85" />
<line x1="564.4" y1="346.03" x2="564.4" y2="352.37" stroke="#fff6dc" stroke-width="0.85" />
<circle cx="611" cy="347.6" r="4.4" fill="url(#gHo)"/>
<line x1="607.83" y1="347.6" x2="614.17" y2="347.6" stroke="#fff6dc" stroke-width="0.85" />
<line x1="611" y1="344.43" x2="611" y2="350.77" stroke="#fff6dc" stroke-width="0.85" />
<path d="M531.2 359.8 C532.89 361.27 530.85 368.01 528.9 370.2 C526.95 372.39 527.09 374.22 527.42 376.91" fill="none" stroke="#c1272d" stroke-width="1.4" stroke-linecap="round"/>
<polygon points="526.6,380.6 524.32,375.08 529.41,375.33" fill="#c1272d" />
<path d="M564.2 353 C565.34 354.52 562.41 359.74 560.4 361.2 C558.39 362.66 558.41 363.68 558.19 365.97" fill="none" stroke="#c1272d" stroke-width="1.4" stroke-linecap="round"/>
<polygon points="556.6,369.4 555.56,363.52 560.48,364.86" fill="#c1272d" />
<path d="M610.6 351.6 C612.2 353.68 608.26 360.95 605.5 363 C602.74 365.05 602.21 367.79 601.94 370.95" fill="none" stroke="#c1272d" stroke-width="1.4" stroke-linecap="round"/>
<polygon points="600.4,374.4 599.28,368.53 604.22,369.81" fill="#c1272d" />
<path d="M636.5 231.8 H664.8 V301.5 M664.8 320 V396.5 H634.5" fill="none" stroke="#7a7a7a" stroke-width="1.0"/>
<line x1="659.3" y1="306.3" x2="670.8" y2="306.3" stroke="#7a7a7a" stroke-width="1.1" />
<line x1="656.8" y1="315.4" x2="673.9" y2="315.4" stroke="#7a7a7a" stroke-width="1.1" />
<text transform="translate(684.4,316) rotate(-90)" font-size="12.2" text-anchor="middle" fill="#1a1a1a">External Positive Bias</text>
<ellipse cx="65.6" cy="435.8" rx="11.4" ry="4.6" fill="url(#gDipL)"/>
<line x1="57.3" y1="435.8" x2="62.3" y2="435.8" stroke="#fff" stroke-width="1.0" />
<line x1="69.3" y1="435.8" x2="74.1" y2="435.8" stroke="#fff" stroke-width="1.0" />
<line x1="71.7" y1="433.4" x2="71.7" y2="438.2" stroke="#fff" stroke-width="1.0" />
<text x="81" y="440.3" font-size="12.3" text-anchor="start" fill="#1a1a1a" >Electric dipole</text>
<circle cx="179.4" cy="436.8" r="4.3" fill="#d9a941"/>
<line x1="176.4" y1="436.8" x2="182.4" y2="436.8" stroke="#fff" stroke-width="1.1" />
<line x1="179.4" y1="433.8" x2="179.4" y2="439.8" stroke="#fff" stroke-width="1.1" />
<text x="189.5" y="441" font-size="12" text-anchor="start" fill="#1a1a1a" >Hole</text>
<circle cx="231.5" cy="437" r="4.5" fill="#7aa3c9"/>
<line x1="228.4" y1="437" x2="234.6" y2="437" stroke="#fff" stroke-width="1.2" />
<text x="241.4" y="441.2" font-size="12.1" text-anchor="start" fill="#1a1a1a" >Electron</text>
<polygon points="300.95,423.4 308.85,423.4 308.85,441.5 313.3,441.5 304.9,450.2 296.5,441.5 300.95,441.5" fill="url(#gEbi)" stroke="#a9abc6" stroke-width="0.55"/>
<text x="324.0" y="441.0" font-size="12.3" fill="#1a1a1a">E<tspan font-size="7.5" dy="2.4">bi</tspan><tspan dy="-2.4">: Built-in electric field</tspan></text>
<polygon points="471.6,425 478.6,425 478.6,439.2 482.7,439.2 475.1,446.6 467.5,439.2 471.6,439.2" fill="url(#gEadd)" />
<text x="496.5" y="440.8" font-size="12.2" fill="#1a1a1a">E<tspan font-size="7.5" dy="2.4">add</tspan><tspan dy="-2.4">: Additional electric field</tspan></text>
<text x="0.3" y="202.8" font-size="26.5" text-anchor="start" fill="#231815" >d</text>
<text x="38.2" y="169.5" font-size="12.2" text-anchor="middle" fill="#1a1a1a" >0.0</text>
<text x="66.74" y="169.5" font-size="12.2" text-anchor="middle" fill="#1a1a1a" >0.2</text>
<text x="95.28" y="169.5" font-size="12.2" text-anchor="middle" fill="#1a1a1a" >0.4</text>
<text x="123.82" y="169.5" font-size="12.2" text-anchor="middle" fill="#1a1a1a" >0.6</text>
<text x="152.36" y="169.5" font-size="12.2" text-anchor="middle" fill="#1a1a1a" >0.8</text>
<text x="180.9" y="169.5" font-size="12.2" text-anchor="middle" fill="#1a1a1a" >1.0</text>
<text x="209.44" y="169.5" font-size="12.2" text-anchor="middle" fill="#1a1a1a" >1.2</text>
<text x="35" y="161" font-size="12.2" text-anchor="end" fill="#1a1a1a" >0</text>
<text x="35" y="129.18" font-size="12.2" text-anchor="end" fill="#1a1a1a" >5</text>
<text x="35" y="97.35" font-size="12.2" text-anchor="end" fill="#1a1a1a" >10</text>
<text x="35" y="65.53" font-size="12.2" text-anchor="end" fill="#1a1a1a" >15</text>
<text x="35" y="33.7" font-size="12.2" text-anchor="end" fill="#1a1a1a" >20</text>
<text x="127.3" y="183" font-size="12.7" text-anchor="middle" fill="#1a1a1a" >Voltage (V)</text>
<text transform="translate(17.3,85.3) rotate(-90)" font-size="12.3" text-anchor="middle" fill="#1a1a1a">Current density (mA cm<tspan font-size="7.2" dy="-4.8" letter-spacing="-0.4">−2</tspan><tspan dy="4.8">)</tspan></text>
<clipPath id="ca"><rect x="38.2" y="13.6" width="178.2" height="143.20000000000002"/></clipPath>
<g clip-path="url(#ca)">
<path d="M37.7 21.5 L39.95 21.52 L42.19 21.55 L44.44 21.57 L46.68 21.6 L48.93 21.62 L51.17 21.64 L53.42 21.67 L55.67 21.69 L57.91 21.72 L60.16 21.75 L62.4 21.77 L64.65 21.8 L66.9 21.82 L69.14 21.85 L71.39 21.88 L73.63 21.9 L75.88 21.93 L78.12 21.96 L80.37 21.99 L82.62 22.01 L84.86 22.04 L87.11 22.07 L89.35 22.1 L91.6 22.13 L93.85 22.15 L96.09 22.17 L98.34 22.2 L100.59 22.22 L102.84 22.24 L105.08 22.26 L107.33 22.28 L109.58 22.3 L111.83 22.32 L114.07 22.35 L116.32 22.37 L118.57 22.4 L120.81 22.43 L123.06 22.46 L125.31 22.49 L127.55 22.53 L129.79 22.57 L132.04 22.62 L134.28 22.66 L136.52 22.72 L138.76 22.78 L141 22.86 L143.24 23.01 L145.48 23.23 L147.71 23.48 L149.94 23.75 L152.18 24.04 L154.41 24.31 L156.66 24.57 L158.91 24.87 L161.12 25.23 L163.27 25.69 L165.37 26.44 L167.42 27.45 L169.39 28.59 L171.26 29.79 L173.09 31.15 L174.79 32.66 L176.28 34.27 L177.64 36.04 L178.89 37.95 L180.03 39.91 L181.06 41.89 L182.02 43.92 L182.9 46.01 L183.7 48.11 L184.4 50.23 L185.05 52.38 L185.64 54.55 L186.2 56.73 L186.73 58.92 L187.25 61.1 L187.74 63.3 L188.2 65.5 L188.64 67.7 L189.05 69.91 L189.43 72.12 L189.78 74.34 L190.12 76.56 L190.44 78.78 L190.75 81.01 L191.04 83.23 L191.33 85.46 L191.62 87.69 L191.89 89.92 L192.15 92.15 L192.41 94.38 L192.67 96.61 L192.91 98.84 L193.16 101.07 L193.4 103.31 L193.64 105.54 L193.87 107.78 L194.11 110.01 L194.34 112.24 L194.58 114.48 L194.82 116.71 L195.06 118.94 L195.31 121.18 L195.55 123.41 L195.8 125.64 L196.04 127.87 L196.29 130.11 L196.53 132.34 L196.78 134.57 L197.02 136.8 L197.26 139.04 L197.51 141.27 L197.75 143.5 L197.99 145.74 L198.23 147.97 L198.48 150.2 L198.72 152.43 L198.96 154.67 L199.2 156.9" fill="none" stroke="#9a9a9a" stroke-width="1.2" stroke-linejoin="round" stroke-dasharray="8 4" />
<path d="M38.2 21.3 L40.45 21.32 L42.69 21.35 L44.94 21.37 L47.18 21.4 L49.43 21.42 L51.67 21.44 L53.92 21.47 L56.17 21.49 L58.41 21.52 L60.66 21.55 L62.9 21.57 L65.15 21.6 L67.4 21.62 L69.64 21.65 L71.89 21.68 L74.13 21.7 L76.38 21.73 L78.62 21.76 L80.87 21.79 L83.12 21.81 L85.36 21.84 L87.61 21.87 L89.85 21.9 L92.1 21.93 L94.35 21.95 L96.59 21.97 L98.84 22 L101.09 22.02 L103.34 22.04 L105.58 22.06 L107.83 22.08 L110.08 22.1 L112.33 22.12 L114.57 22.15 L116.82 22.17 L119.07 22.2 L121.31 22.23 L123.56 22.26 L125.81 22.29 L128.05 22.33 L130.29 22.37 L132.54 22.42 L134.78 22.46 L137.02 22.52 L139.26 22.58 L141.5 22.66 L143.74 22.81 L145.98 23.03 L148.21 23.28 L150.44 23.55 L152.68 23.84 L154.91 24.11 L157.16 24.37 L159.41 24.67 L161.62 25.03 L163.77 25.49 L165.87 26.24 L167.92 27.25 L169.89 28.39 L171.76 29.59 L173.59 30.95 L175.29 32.46 L176.78 34.07 L178.14 35.84 L179.39 37.75 L180.53 39.71 L181.56 41.69 L182.52 43.72 L183.4 45.81 L184.2 47.91 L184.9 50.03 L185.55 52.18 L186.14 54.35 L186.7 56.53 L187.23 58.72 L187.75 60.9 L188.24 63.1 L188.7 65.3 L189.14 67.5 L189.55 69.71 L189.93 71.92 L190.28 74.14 L190.62 76.36 L190.94 78.58 L191.25 80.81 L191.54 83.03 L191.83 85.26 L192.12 87.49 L192.39 89.72 L192.65 91.95 L192.91 94.18 L193.17 96.41 L193.41 98.64 L193.66 100.87 L193.9 103.11 L194.14 105.34 L194.37 107.58 L194.61 109.81 L194.84 112.04 L195.08 114.28 L195.32 116.51 L195.56 118.74 L195.81 120.98 L196.05 123.21 L196.3 125.44 L196.54 127.67 L196.79 129.91 L197.03 132.14 L197.28 134.37 L197.52 136.6 L197.76 138.84 L198.01 141.07 L198.25 143.3 L198.49 145.54 L198.73 147.77 L198.98 150 L199.22 152.23 L199.46 154.47 L199.7 156.7" fill="none" stroke="#9a9a9a" stroke-width="1.5" stroke-linejoin="round" />
<path d="M37.7 20.2 L40.12 20.23 L42.54 20.26 L44.95 20.28 L47.37 20.31 L49.79 20.34 L52.21 20.37 L54.63 20.39 L57.05 20.42 L59.46 20.45 L61.88 20.48 L64.3 20.51 L66.72 20.53 L69.14 20.56 L71.56 20.59 L73.97 20.62 L76.39 20.65 L78.81 20.67 L81.23 20.7 L83.65 20.73 L86.07 20.76 L88.48 20.79 L90.9 20.82 L93.32 20.84 L95.74 20.87 L98.16 20.9 L100.58 20.92 L102.99 20.95 L105.41 20.98 L107.83 21 L110.25 21.03 L112.67 21.05 L115.09 21.08 L117.5 21.11 L119.92 21.14 L122.34 21.16 L124.76 21.19 L127.18 21.22 L129.6 21.26 L132.01 21.29 L134.43 21.32 L136.85 21.36 L139.27 21.4 L141.69 21.44 L144.1 21.48 L146.52 21.52 L148.94 21.57 L151.36 21.61 L153.78 21.67 L156.2 21.72 L158.61 21.78 L161.03 21.85 L163.45 21.92 L165.87 21.98 L168.3 22.05 L170.72 22.14 L173.15 22.23 L175.56 22.35 L177.96 22.51 L180.35 22.73 L182.75 23.19 L185.1 23.84 L187.33 24.65 L189.51 25.81 L191.52 27.22 L193.25 28.8 L194.84 30.68 L196.21 32.73 L197.31 34.83 L198.25 37.04 L199.08 39.35 L199.83 41.68 L200.52 43.99 L201.18 46.32 L201.79 48.66 L202.35 51.02 L202.86 53.39 L203.32 55.76 L203.74 58.14 L204.14 60.52 L204.51 62.92 L204.85 65.31 L205.18 67.71 L205.49 70.11 L205.78 72.51 L206.06 74.91 L206.33 77.32 L206.58 79.72 L206.81 82.13 L207.04 84.54 L207.25 86.95 L207.46 89.35 L207.66 91.76 L207.85 94.18 L208.03 96.59 L208.21 99 L208.38 101.41 L208.55 103.82 L208.72 106.24 L208.89 108.65 L209.06 111.06 L209.22 113.48 L209.39 115.89 L209.56 118.3 L209.74 120.71 L209.91 123.13 L210.09 125.54 L210.26 127.95 L210.43 130.36 L210.61 132.77 L210.78 135.19 L210.95 137.6 L211.12 140.01 L211.29 142.42 L211.46 144.84 L211.63 147.25 L211.8 149.66 L211.97 152.07 L212.13 154.49 L212.3 156.9" fill="none" stroke="#f0b323" stroke-width="1.2" stroke-linejoin="round" stroke-dasharray="8 4" />
<path d="M38.2 20 L40.62 20.03 L43.04 20.06 L45.45 20.08 L47.87 20.11 L50.29 20.14 L52.71 20.17 L55.13 20.19 L57.55 20.22 L59.96 20.25 L62.38 20.28 L64.8 20.31 L67.22 20.33 L69.64 20.36 L72.06 20.39 L74.47 20.42 L76.89 20.45 L79.31 20.47 L81.73 20.5 L84.15 20.53 L86.57 20.56 L88.98 20.59 L91.4 20.62 L93.82 20.64 L96.24 20.67 L98.66 20.7 L101.08 20.72 L103.49 20.75 L105.91 20.78 L108.33 20.8 L110.75 20.83 L113.17 20.85 L115.59 20.88 L118 20.91 L120.42 20.94 L122.84 20.96 L125.26 20.99 L127.68 21.02 L130.1 21.06 L132.51 21.09 L134.93 21.12 L137.35 21.16 L139.77 21.2 L142.19 21.24 L144.6 21.28 L147.02 21.32 L149.44 21.37 L151.86 21.41 L154.28 21.47 L156.7 21.52 L159.11 21.58 L161.53 21.65 L163.95 21.72 L166.37 21.78 L168.8 21.85 L171.22 21.94 L173.65 22.03 L176.06 22.15 L178.46 22.31 L180.85 22.53 L183.25 22.99 L185.6 23.64 L187.83 24.45 L190.01 25.61 L192.02 27.02 L193.75 28.6 L195.34 30.48 L196.71 32.53 L197.81 34.63 L198.75 36.84 L199.58 39.15 L200.33 41.48 L201.02 43.79 L201.68 46.12 L202.29 48.46 L202.85 50.82 L203.36 53.19 L203.82 55.56 L204.24 57.94 L204.64 60.32 L205.01 62.72 L205.35 65.11 L205.68 67.51 L205.99 69.91 L206.28 72.31 L206.56 74.71 L206.83 77.12 L207.08 79.52 L207.31 81.93 L207.54 84.34 L207.75 86.75 L207.96 89.15 L208.16 91.56 L208.35 93.98 L208.53 96.39 L208.71 98.8 L208.88 101.21 L209.05 103.62 L209.22 106.04 L209.39 108.45 L209.56 110.86 L209.72 113.28 L209.89 115.69 L210.06 118.1 L210.24 120.51 L210.41 122.93 L210.59 125.34 L210.76 127.75 L210.93 130.16 L211.11 132.57 L211.28 134.99 L211.45 137.4 L211.62 139.81 L211.79 142.22 L211.96 144.64 L212.13 147.05 L212.3 149.46 L212.47 151.87 L212.63 154.29 L212.8 156.7" fill="none" stroke="#f0b323" stroke-width="1.6" stroke-linejoin="round" />
</g>
<line x1="193.1" y1="32.2" x2="195.19" y2="40.2" stroke="#f0b323" stroke-width="0.7" stroke-dasharray="2 1.4"/>
<polygon points="196,43.3 193.84,40.56 196.55,39.85" fill="#f0b323" />
<line x1="204.8" y1="44.5" x2="201.94" y2="35.26" stroke="#f0b323" stroke-width="0.7"/>
<polygon points="201,32.2 203.28,34.84 200.61,35.67" fill="#f0b323" />
<line x1="195.3" y1="140" x2="196.19" y2="149.21" stroke="#9a9a9a" stroke-width="0.7" stroke-dasharray="2 1.4"/>
<polygon points="196.5,152.4 194.8,149.35 197.59,149.08" fill="#9a9a9a" />
<line x1="202.4" y1="153" x2="201.52" y2="144.18" stroke="#9a9a9a" stroke-width="0.7"/>
<polygon points="201.2,141 202.91,144.04 200.13,144.32" fill="#9a9a9a" />
<line x1="40.6" y1="29.8" x2="62.2" y2="29.8" stroke="#9a9a9a" stroke-width="1.3" stroke-dasharray="7.1 7.3"/>
<text x="66.9" y="33.2" font-size="10.3" text-anchor="start" fill="#222" >Control</text>
<line x1="40.6" y1="42.55" x2="62.2" y2="42.55" stroke="#9a9a9a" stroke-width="1.3" />
<text x="66.9" y="45.95" font-size="10.3" text-anchor="start" fill="#222" >Control</text>
<line x1="40.6" y1="55.3" x2="62.2" y2="55.3" stroke="#f0b323" stroke-width="1.5" stroke-dasharray="7.1 7.3"/>
<text x="66.9" y="58.7" font-size="10.3" text-anchor="start" fill="#222" >DCl</text>
<line x1="40.6" y1="68.05" x2="62.2" y2="68.05" stroke="#f0b323" stroke-width="1.5" />
<text x="66.9" y="71.45" font-size="10.3" text-anchor="start" fill="#222" >DCl</text>
<text x="0.3" y="17.8" font-size="26.5" text-anchor="start" fill="#231815" >a</text>
<text x="262.8" y="169.5" font-size="12.2" text-anchor="middle" fill="#1a1a1a" >0.0</text>
<text x="291.3" y="169.5" font-size="12.2" text-anchor="middle" fill="#1a1a1a" >0.2</text>
<text x="319.8" y="169.5" font-size="12.2" text-anchor="middle" fill="#1a1a1a" >0.4</text>
<text x="348.3" y="169.5" font-size="12.2" text-anchor="middle" fill="#1a1a1a" >0.6</text>
<text x="376.8" y="169.5" font-size="12.2" text-anchor="middle" fill="#1a1a1a" >0.8</text>
<text x="405.3" y="169.5" font-size="12.2" text-anchor="middle" fill="#1a1a1a" >1.0</text>
<text x="433.8" y="169.5" font-size="12.2" text-anchor="middle" fill="#1a1a1a" >1.2</text>
<text x="259.8" y="161.1" font-size="12.2" text-anchor="end" fill="#1a1a1a" >0</text>
<text x="259.8" y="127.6" font-size="12.2" text-anchor="end" fill="#1a1a1a" >5</text>
<text x="259.8" y="94.1" font-size="12.2" text-anchor="end" fill="#1a1a1a" >10</text>
<text x="259.8" y="60.6" font-size="12.2" text-anchor="end" fill="#1a1a1a" >15</text>
<text x="259.8" y="27.1" font-size="12.2" text-anchor="end" fill="#1a1a1a" >20</text>
<text x="351.7" y="183" font-size="12.7" text-anchor="middle" fill="#1a1a1a" >Voltage (V)</text>
<text transform="translate(242.1,85.3) rotate(-90)" font-size="12.3" text-anchor="middle" fill="#1a1a1a">Current density (mA cm<tspan font-size="7.2" dy="-4.8" letter-spacing="-0.4">−2</tspan><tspan dy="4.8">)</tspan></text>
<clipPath id="cb"><rect x="262.8" y="13.6" width="177.8" height="143.3"/></clipPath>
<g clip-path="url(#cb)">
<path d="M261.8 17 L264.21 17.08 L266.62 17.15 L269.03 17.23 L271.45 17.3 L273.86 17.38 L276.27 17.46 L278.68 17.54 L281.09 17.61 L283.5 17.69 L285.91 17.77 L288.33 17.85 L290.74 17.93 L293.15 18.01 L295.56 18.09 L297.97 18.17 L300.38 18.25 L302.79 18.33 L305.21 18.41 L307.62 18.49 L310.03 18.58 L312.44 18.66 L314.85 18.74 L317.26 18.82 L319.67 18.9 L322.09 18.98 L324.5 19.07 L326.91 19.15 L329.32 19.24 L331.73 19.33 L334.14 19.42 L336.55 19.51 L338.96 19.61 L341.37 19.7 L343.78 19.8 L346.2 19.9 L348.61 20.01 L351.02 20.11 L353.43 20.22 L355.84 20.33 L358.25 20.44 L360.66 20.55 L363.07 20.67 L365.48 20.78 L367.89 20.89 L370.3 21 L372.71 21.12 L375.12 21.23 L377.53 21.35 L379.94 21.48 L382.35 21.61 L384.76 21.75 L387.16 21.9 L389.57 22.05 L391.99 22.2 L394.4 22.37 L396.81 22.55 L399.21 22.77 L401.6 23.02 L404.01 23.33 L406.45 23.74 L408.82 24.28 L410.99 25 L413.04 26.28 L414.91 27.96 L416.5 29.72 L417.9 31.69 L419.14 33.81 L420.21 35.96 L421.16 38.17 L422.01 40.44 L422.79 42.74 L423.5 45.05 L424.17 47.36 L424.8 49.69 L425.38 52.04 L425.91 54.4 L426.39 56.76 L426.83 59.13 L427.25 61.51 L427.64 63.89 L428 66.28 L428.33 68.67 L428.63 71.06 L428.9 73.46 L429.16 75.85 L429.4 78.25 L429.62 80.66 L429.84 83.06 L430.04 85.46 L430.24 87.87 L430.44 90.28 L430.63 92.68 L430.82 95.09 L431.02 97.5 L431.22 99.9 L431.43 102.3 L431.63 104.71 L431.84 107.11 L432.04 109.52 L432.24 111.92 L432.44 114.33 L432.63 116.73 L432.83 119.13 L433.03 121.54 L433.23 123.94 L433.43 126.35 L433.63 128.75 L433.83 131.16 L434.03 133.56 L434.24 135.97 L434.44 138.37 L434.65 140.77 L434.85 143.18 L435.06 145.58 L435.27 147.99 L435.47 150.39 L435.68 152.79 L435.89 155.2 L436.1 157.6" fill="none" stroke="#f0b323" stroke-width="1.4" stroke-linejoin="round" stroke-dasharray="8 4" />
<path d="M263 16.2 L265.41 16.28 L267.82 16.35 L270.23 16.43 L272.65 16.5 L275.06 16.58 L277.47 16.66 L279.88 16.74 L282.29 16.81 L284.7 16.89 L287.11 16.97 L289.53 17.05 L291.94 17.13 L294.35 17.21 L296.76 17.29 L299.17 17.37 L301.58 17.45 L303.99 17.53 L306.41 17.61 L308.82 17.69 L311.23 17.78 L313.64 17.86 L316.05 17.94 L318.46 18.02 L320.87 18.1 L323.29 18.18 L325.7 18.27 L328.11 18.35 L330.52 18.44 L332.93 18.53 L335.34 18.62 L337.75 18.71 L340.16 18.81 L342.57 18.9 L344.98 19 L347.4 19.1 L349.81 19.21 L352.22 19.31 L354.63 19.42 L357.04 19.53 L359.45 19.64 L361.86 19.75 L364.27 19.87 L366.68 19.98 L369.09 20.09 L371.5 20.2 L373.91 20.32 L376.32 20.43 L378.73 20.55 L381.14 20.68 L383.55 20.81 L385.96 20.95 L388.36 21.1 L390.77 21.25 L393.19 21.4 L395.6 21.57 L398.01 21.75 L400.41 21.97 L402.8 22.22 L405.21 22.53 L407.65 22.94 L410.02 23.48 L412.19 24.2 L414.24 25.48 L416.11 27.16 L417.7 28.92 L419.1 30.89 L420.34 33.01 L421.41 35.16 L422.36 37.37 L423.21 39.64 L423.99 41.94 L424.7 44.25 L425.37 46.56 L426 48.89 L426.58 51.24 L427.11 53.6 L427.59 55.96 L428.03 58.33 L428.45 60.71 L428.84 63.09 L429.2 65.48 L429.53 67.87 L429.83 70.26 L430.1 72.66 L430.36 75.05 L430.6 77.45 L430.82 79.86 L431.04 82.26 L431.24 84.66 L431.44 87.07 L431.64 89.48 L431.83 91.88 L432.02 94.29 L432.22 96.7 L432.42 99.1 L432.63 101.5 L432.83 103.91 L433.04 106.31 L433.24 108.72 L433.44 111.12 L433.64 113.53 L433.83 115.93 L434.03 118.33 L434.23 120.74 L434.43 123.14 L434.63 125.55 L434.83 127.95 L435.03 130.36 L435.23 132.76 L435.44 135.17 L435.64 137.57 L435.85 139.97 L436.05 142.38 L436.26 144.78 L436.47 147.19 L436.67 149.59 L436.88 151.99 L437.09 154.4 L437.3 156.8" fill="none" stroke="#f0b323" stroke-width="1.6" stroke-linejoin="round" />
</g>
<line x1="265.6" y1="26.6" x2="287.2" y2="26.6" stroke="#f0b323" stroke-width="1.5" stroke-dasharray="7.1 7.3"/>
<text x="291.5" y="30" font-size="10.3" text-anchor="start" fill="#222" >Forward</text>
<line x1="265.6" y1="38.9" x2="287.2" y2="38.9" stroke="#f0b323" stroke-width="1.5" />
<text x="291.5" y="42.3" font-size="10.3" text-anchor="start" fill="#222" >Reverse</text>
<text x="352" y="81.3" font-size="10" text-anchor="middle" fill="#222">1.21 cm<tspan font-size="6.5" dy="-4">2</tspan></text>
<line x1="281" y1="88.9" x2="408.6" y2="88.9" stroke="#2a2a2a" stroke-width="1.3" />
<line x1="281" y1="115.2" x2="408.6" y2="115.2" stroke="#6a6a6a" stroke-width="1.9" />
<line x1="281" y1="143.4" x2="408.6" y2="143.4" stroke="#2a2a2a" stroke-width="1.3" />
<text x="295.5" y="99.2" font-size="9.2" text-anchor="middle" fill="#222"><tspan font-style="italic">V</tspan><tspan font-size="6.07" dy="1.84">OC</tspan></text>
<text x="295.5" y="111.3" font-size="9.2" text-anchor="middle" fill="#222" >[V]</text>
<text x="323" y="99.2" font-size="9.2" text-anchor="middle" fill="#222" >FF</text>
<text x="323" y="111.3" font-size="9.2" text-anchor="middle" fill="#222" >[%]</text>
<text x="359.3" y="99.2" font-size="9.2" text-anchor="middle" fill="#222"><tspan font-style="italic">J</tspan><tspan font-size="6.07" dy="1.84">SC</tspan></text>
<text x="359.3" y="111.3" font-size="9.2" text-anchor="middle" fill="#222">[mA cm<tspan font-size="5.7" dy="-3">−2</tspan><tspan dy="3">]</tspan></text>
<text x="395.6" y="99.2" font-size="9.2" text-anchor="middle" fill="#222" >PCE</text>
<text x="395.6" y="111.3" font-size="9.2" text-anchor="middle" fill="#222" >[%]</text>
<text x="295.5" y="125.9" font-size="9.3" text-anchor="middle" fill="#222" >1.225</text>
<text x="323" y="125.9" font-size="9.3" text-anchor="middle" fill="#222" >80.0</text>
<text x="359.3" y="125.9" font-size="9.3" text-anchor="middle" fill="#222" >21.0</text>
<text x="395.6" y="125.9" font-size="9.3" text-anchor="middle" fill="#222" >20.6</text>
<text x="295.5" y="140" font-size="9.3" text-anchor="middle" fill="#222" >1.227</text>
<text x="323" y="140" font-size="9.3" text-anchor="middle" fill="#222" >81.3</text>
<text x="359.3" y="140" font-size="9.3" text-anchor="middle" fill="#222" >21.1</text>
<text x="395.6" y="140" font-size="9.3" text-anchor="middle" fill="#222" >21.0</text>
<text x="224.6" y="17.8" font-size="26.5" text-anchor="start" fill="#231815" >b</text>
<text x="486.9" y="169.5" font-size="12.2" text-anchor="middle" fill="#1a1a1a" >0.0</text>
<text x="515.38" y="169.5" font-size="12.2" text-anchor="middle" fill="#1a1a1a" >0.2</text>
<text x="543.86" y="169.5" font-size="12.2" text-anchor="middle" fill="#1a1a1a" >0.4</text>
<text x="572.34" y="169.5" font-size="12.2" text-anchor="middle" fill="#1a1a1a" >0.6</text>
<text x="600.82" y="169.5" font-size="12.2" text-anchor="middle" fill="#1a1a1a" >0.8</text>
<text x="629.3" y="169.5" font-size="12.2" text-anchor="middle" fill="#1a1a1a" >1.0</text>
<text x="657.78" y="169.5" font-size="12.2" text-anchor="middle" fill="#1a1a1a" >1.2</text>
<text x="483.7" y="161.3" font-size="12.2" text-anchor="end" fill="#1a1a1a" >0</text>
<text x="483.7" y="129.4" font-size="12.2" text-anchor="end" fill="#1a1a1a" >5</text>
<text x="483.7" y="97.5" font-size="12.2" text-anchor="end" fill="#1a1a1a" >10</text>
<text x="483.7" y="65.6" font-size="12.2" text-anchor="end" fill="#1a1a1a" >15</text>
<text x="483.7" y="33.7" font-size="12.2" text-anchor="end" fill="#1a1a1a" >20</text>
<text x="575.95" y="183" font-size="12.7" text-anchor="middle" fill="#1a1a1a" >Voltage (V)</text>
<text transform="translate(466.1,85.3) rotate(-90)" font-size="12.3" text-anchor="middle" fill="#1a1a1a">Current density (mA cm<tspan font-size="7.2" dy="-4.8" letter-spacing="-0.4">−2</tspan><tspan dy="4.8">)</tspan></text>
<clipPath id="cc"><rect x="486.9" y="13.6" width="178.10000000000002" height="143.5"/></clipPath>
<g clip-path="url(#cc)">
<path d="M486.3 21.3 L488.56 21.31 L490.82 21.32 L493.08 21.33 L495.35 21.34 L497.61 21.35 L499.87 21.37 L502.13 21.38 L504.39 21.39 L506.65 21.4 L508.91 21.41 L511.18 21.43 L513.44 21.44 L515.7 21.45 L517.96 21.47 L520.22 21.48 L522.48 21.49 L524.74 21.51 L527 21.52 L529.27 21.53 L531.53 21.55 L533.79 21.56 L536.05 21.58 L538.31 21.59 L540.57 21.61 L542.83 21.62 L545.1 21.63 L547.36 21.65 L549.62 21.66 L551.88 21.67 L554.14 21.68 L556.41 21.69 L558.67 21.71 L560.93 21.72 L563.19 21.73 L565.46 21.75 L567.72 21.76 L569.98 21.78 L572.24 21.8 L574.5 21.82 L576.76 21.84 L579.02 21.86 L581.28 21.89 L583.54 21.91 L585.8 21.95 L588.06 21.98 L590.32 22.02 L592.59 22.08 L594.87 22.17 L597.14 22.28 L599.41 22.42 L601.67 22.59 L603.92 22.79 L606.14 23.02 L608.34 23.33 L610.55 23.88 L612.73 24.62 L614.85 25.47 L616.89 26.37 L618.89 27.45 L620.83 28.71 L622.62 30.1 L624.22 31.61 L625.69 33.35 L627.03 35.22 L628.22 37.13 L629.3 39.11 L630.29 41.16 L631.2 43.25 L632.02 45.35 L632.77 47.48 L633.46 49.63 L634.11 51.8 L634.72 53.99 L635.29 56.18 L635.84 58.37 L636.37 60.57 L636.87 62.78 L637.35 64.99 L637.81 67.21 L638.24 69.43 L638.65 71.65 L639.04 73.87 L639.43 76.1 L639.8 78.33 L640.17 80.56 L640.53 82.79 L640.87 85.03 L641.21 87.27 L641.54 89.51 L641.86 91.75 L642.17 93.99 L642.47 96.23 L642.76 98.47 L643.05 100.72 L643.33 102.96 L643.61 105.2 L643.88 107.45 L644.14 109.69 L644.4 111.94 L644.65 114.19 L644.89 116.44 L645.13 118.69 L645.36 120.94 L645.58 123.19 L645.8 125.44 L646.01 127.69 L646.21 129.94 L646.41 132.19 L646.61 134.45 L646.8 136.7 L646.99 138.95 L647.17 141.21 L647.35 143.46 L647.52 145.72 L647.69 147.97 L647.85 150.23 L648.01 152.49 L648.16 154.74 L648.3 157" fill="none" stroke="#9a9a9a" stroke-width="1.3" stroke-linejoin="round" stroke-dasharray="8 4" />
<path d="M486.9 21 L489.16 21.01 L491.42 21.02 L493.68 21.03 L495.95 21.04 L498.21 21.05 L500.47 21.07 L502.73 21.08 L504.99 21.09 L507.25 21.1 L509.51 21.11 L511.78 21.13 L514.04 21.14 L516.3 21.15 L518.56 21.17 L520.82 21.18 L523.08 21.19 L525.34 21.21 L527.6 21.22 L529.87 21.23 L532.13 21.25 L534.39 21.26 L536.65 21.28 L538.91 21.29 L541.17 21.31 L543.43 21.32 L545.7 21.33 L547.96 21.35 L550.22 21.36 L552.48 21.37 L554.74 21.38 L557.01 21.39 L559.27 21.41 L561.53 21.42 L563.79 21.43 L566.06 21.45 L568.32 21.46 L570.58 21.48 L572.84 21.5 L575.1 21.52 L577.36 21.54 L579.62 21.56 L581.88 21.59 L584.14 21.61 L586.4 21.65 L588.66 21.68 L590.92 21.72 L593.19 21.78 L595.47 21.87 L597.74 21.98 L600.01 22.12 L602.27 22.29 L604.52 22.49 L606.74 22.72 L608.94 23.03 L611.15 23.58 L613.33 24.32 L615.45 25.17 L617.49 26.07 L619.49 27.15 L621.43 28.41 L623.22 29.8 L624.82 31.31 L626.29 33.05 L627.63 34.92 L628.82 36.83 L629.9 38.81 L630.89 40.86 L631.8 42.95 L632.62 45.05 L633.37 47.18 L634.06 49.33 L634.71 51.5 L635.32 53.69 L635.89 55.88 L636.44 58.07 L636.97 60.27 L637.47 62.48 L637.95 64.69 L638.41 66.91 L638.84 69.13 L639.25 71.35 L639.64 73.57 L640.03 75.8 L640.4 78.03 L640.77 80.26 L641.13 82.49 L641.47 84.73 L641.81 86.97 L642.14 89.21 L642.46 91.45 L642.77 93.69 L643.07 95.93 L643.36 98.17 L643.65 100.42 L643.93 102.66 L644.21 104.9 L644.48 107.15 L644.74 109.39 L645 111.64 L645.25 113.89 L645.49 116.14 L645.73 118.39 L645.96 120.64 L646.18 122.89 L646.4 125.14 L646.61 127.39 L646.81 129.64 L647.01 131.89 L647.21 134.15 L647.4 136.4 L647.59 138.65 L647.77 140.91 L647.95 143.16 L648.12 145.42 L648.29 147.67 L648.45 149.93 L648.61 152.19 L648.76 154.44 L648.9 156.7" fill="none" stroke="#9a9a9a" stroke-width="1.5" stroke-linejoin="round" />
<path d="M486 17.8 L488.46 17.8 L490.91 17.81 L493.37 17.81 L495.82 17.82 L498.28 17.83 L500.73 17.83 L503.19 17.84 L505.64 17.85 L508.1 17.86 L510.55 17.87 L513.01 17.88 L515.46 17.89 L517.92 17.9 L520.37 17.91 L522.83 17.92 L525.28 17.93 L527.74 17.94 L530.19 17.96 L532.65 17.97 L535.1 17.98 L537.56 17.99 L540.01 18 L542.47 18.02 L544.92 18.03 L547.38 18.04 L549.83 18.06 L552.29 18.07 L554.74 18.08 L557.2 18.1 L559.65 18.11 L562.11 18.13 L564.56 18.15 L567.02 18.16 L569.47 18.18 L571.93 18.21 L574.38 18.23 L576.84 18.25 L579.29 18.28 L581.75 18.31 L584.2 18.33 L586.66 18.37 L589.11 18.4 L591.56 18.44 L594.02 18.5 L596.47 18.58 L598.93 18.66 L601.38 18.76 L603.83 18.86 L606.29 18.98 L608.74 19.1 L611.19 19.22 L613.64 19.35 L616.1 19.48 L618.55 19.61 L621.01 19.74 L623.47 19.87 L625.93 20.03 L628.37 20.23 L630.78 20.51 L633.21 21.03 L635.6 21.78 L637.85 22.69 L639.96 23.85 L641.96 25.39 L643.74 27.11 L645.27 28.96 L646.68 31.02 L647.9 33.21 L648.87 35.44 L649.65 37.73 L650.32 40.1 L650.91 42.51 L651.47 44.92 L652 47.32 L652.5 49.72 L652.96 52.13 L653.41 54.55 L653.86 56.96 L654.32 59.38 L654.81 61.79 L655.29 64.2 L655.74 66.61 L656.11 69.04 L656.41 71.47 L656.66 73.9 L656.89 76.34 L657.11 78.78 L657.3 81.23 L657.49 83.68 L657.66 86.13 L657.82 88.58 L657.98 91.04 L658.14 93.49 L658.3 95.94 L658.46 98.4 L658.62 100.85 L658.79 103.3 L658.95 105.75 L659.11 108.2 L659.27 110.65 L659.42 113.1 L659.57 115.55 L659.72 118 L659.87 120.45 L660.03 122.9 L660.18 125.35 L660.33 127.8 L660.49 130.25 L660.64 132.7 L660.8 135.15 L660.95 137.6 L661.11 140.05 L661.26 142.5 L661.42 144.95 L661.58 147.4 L661.73 149.85 L661.89 152.3 L662.04 154.75 L662.2 157.2" fill="none" stroke="#f0b323" stroke-width="1.2" stroke-linejoin="round" stroke-dasharray="8 4" />
<path d="M486.9 17.3 L489.36 17.3 L491.81 17.31 L494.27 17.31 L496.72 17.32 L499.18 17.33 L501.63 17.33 L504.09 17.34 L506.54 17.35 L509 17.36 L511.45 17.37 L513.91 17.38 L516.36 17.39 L518.82 17.4 L521.27 17.41 L523.73 17.42 L526.18 17.43 L528.64 17.44 L531.09 17.46 L533.55 17.47 L536 17.48 L538.46 17.49 L540.91 17.5 L543.37 17.52 L545.82 17.53 L548.28 17.54 L550.73 17.56 L553.19 17.57 L555.64 17.58 L558.1 17.6 L560.55 17.61 L563.01 17.63 L565.46 17.65 L567.92 17.66 L570.37 17.68 L572.83 17.71 L575.28 17.73 L577.74 17.75 L580.19 17.78 L582.65 17.81 L585.1 17.83 L587.56 17.87 L590.01 17.9 L592.46 17.94 L594.92 18 L597.37 18.08 L599.83 18.16 L602.28 18.26 L604.73 18.36 L607.19 18.48 L609.64 18.6 L612.09 18.72 L614.54 18.85 L617 18.98 L619.45 19.11 L621.91 19.24 L624.37 19.37 L626.83 19.53 L629.27 19.73 L631.68 20.01 L634.11 20.53 L636.5 21.28 L638.75 22.19 L640.86 23.35 L642.86 24.89 L644.64 26.61 L646.17 28.46 L647.58 30.52 L648.8 32.71 L649.77 34.94 L650.55 37.23 L651.22 39.6 L651.81 42.01 L652.37 44.42 L652.9 46.82 L653.4 49.22 L653.86 51.63 L654.31 54.05 L654.76 56.46 L655.22 58.88 L655.71 61.29 L656.19 63.7 L656.64 66.11 L657.01 68.54 L657.31 70.97 L657.56 73.4 L657.79 75.84 L658.01 78.28 L658.2 80.73 L658.39 83.18 L658.56 85.63 L658.72 88.08 L658.88 90.54 L659.04 92.99 L659.2 95.44 L659.36 97.9 L659.52 100.35 L659.69 102.8 L659.85 105.25 L660.01 107.7 L660.17 110.15 L660.32 112.6 L660.47 115.05 L660.62 117.5 L660.77 119.95 L660.93 122.4 L661.08 124.85 L661.23 127.3 L661.39 129.75 L661.54 132.2 L661.7 134.65 L661.85 137.1 L662.01 139.55 L662.16 142 L662.32 144.45 L662.48 146.9 L662.63 149.35 L662.79 151.8 L662.94 154.25 L663.1 156.7" fill="none" stroke="#f0b323" stroke-width="1.6" stroke-linejoin="round" />
</g>
<line x1="644.3" y1="31.5" x2="646.38" y2="39.41" stroke="#f0b323" stroke-width="0.7" stroke-dasharray="2 1.4"/>
<polygon points="647.2,42.5 645.03,39.76 647.74,39.05" fill="#f0b323" />
<line x1="656.2" y1="43.5" x2="653.06" y2="34.52" stroke="#f0b323" stroke-width="0.7"/>
<polygon points="652,31.5 654.38,34.06 651.74,34.98" fill="#f0b323" />
<line x1="644" y1="136" x2="644.98" y2="145.82" stroke="#9a9a9a" stroke-width="0.7" stroke-dasharray="2 1.4"/>
<polygon points="645.3,149 643.59,145.96 646.37,145.68" fill="#9a9a9a" />
<line x1="651.6" y1="148.5" x2="650.56" y2="139.18" stroke="#9a9a9a" stroke-width="0.7"/>
<polygon points="650.2,136 651.95,139.02 649.16,139.34" fill="#9a9a9a" />
<line x1="489.7" y1="29.8" x2="511.5" y2="29.8" stroke="#9a9a9a" stroke-width="1.3" stroke-dasharray="7.1 7.3"/>
<text x="515.6" y="33.2" font-size="10.3" text-anchor="start" fill="#222" >Control</text>
<line x1="489.7" y1="42.55" x2="511.5" y2="42.55" stroke="#9a9a9a" stroke-width="1.3" />
<text x="515.6" y="45.95" font-size="10.3" text-anchor="start" fill="#222" >Control</text>
<line x1="489.7" y1="55.3" x2="511.5" y2="55.3" stroke="#f0b323" stroke-width="1.5" stroke-dasharray="7.1 7.3"/>
<text x="515.6" y="58.7" font-size="10.3" text-anchor="start" fill="#222" >DCl</text>
<line x1="489.7" y1="68.05" x2="511.5" y2="68.05" stroke="#f0b323" stroke-width="1.5" />
<text x="515.6" y="71.45" font-size="10.3" text-anchor="start" fill="#222" >DCl</text>
<text x="558" y="53.7" font-size="12.2" text-anchor="start" fill="#222" >After poling</text>
<text x="450.6" y="17.3" font-size="26.5" text-anchor="start" fill="#231815" >c</text>
<text x="38.2" y="618" font-size="12.2" text-anchor="middle" fill="#1a1a1a" >0.0</text>
<text x="82.7" y="618" font-size="12.2" text-anchor="middle" fill="#1a1a1a" >0.5</text>
<text x="127.2" y="618" font-size="12.2" text-anchor="middle" fill="#1a1a1a" >1.0</text>
<text x="171.7" y="618" font-size="12.2" text-anchor="middle" fill="#1a1a1a" >1.5</text>
<text x="216.2" y="618" font-size="12.2" text-anchor="middle" fill="#1a1a1a" >2.0</text>
<text x="35" y="609.3" font-size="12.2" text-anchor="end" fill="#1a1a1a" >0</text>
<text x="35" y="575" font-size="12.2" text-anchor="end" fill="#1a1a1a" >5</text>
<text x="35" y="540.7" font-size="12.2" text-anchor="end" fill="#1a1a1a" >10</text>
<text x="35" y="506.4" font-size="12.2" text-anchor="end" fill="#1a1a1a" >15</text>
<text x="35" y="472.1" font-size="12.2" text-anchor="end" fill="#1a1a1a" >20</text>
<text x="127.2" y="632.6" font-size="12.7" text-anchor="middle" fill="#1a1a1a" >Voltage (V)</text>
<text transform="translate(17.3,533.3) rotate(-90)" font-size="12.3" text-anchor="middle" fill="#1a1a1a">Courrent density (mA cm<tspan font-size="7.2" dy="-4.8" letter-spacing="-0.4">−2</tspan><tspan dy="4.8">)</tspan></text>
<clipPath id="ce"><rect x="38.2" y="461.8" width="178.0" height="143.3"/></clipPath>
<g clip-path="url(#ce)">
<path d="M37.6 467.2 L39.85 467.3 L42.1 467.4 L44.35 467.5 L46.6 467.6 L48.85 467.7 L51.1 467.8 L53.35 467.91 L55.6 468.01 L57.85 468.12 L60.1 468.23 L62.35 468.33 L64.6 468.44 L66.85 468.55 L69.1 468.66 L71.35 468.77 L73.59 468.89 L75.84 469 L78.09 469.11 L80.34 469.23 L82.59 469.34 L84.84 469.46 L87.09 469.58 L89.34 469.7 L91.59 469.81 L93.84 469.93 L96.09 470.04 L98.34 470.16 L100.59 470.27 L102.84 470.38 L105.09 470.49 L107.34 470.61 L109.59 470.72 L111.84 470.84 L114.09 470.96 L116.34 471.08 L118.59 471.2 L120.84 471.33 L123.09 471.46 L125.33 471.6 L127.58 471.74 L129.83 471.89 L132.07 472.05 L134.32 472.21 L136.56 472.38 L138.8 472.55 L141.05 472.74 L143.29 472.94 L145.54 473.16 L147.78 473.4 L150.02 473.66 L152.26 473.94 L154.49 474.24 L156.71 474.57 L158.93 474.93 L161.16 475.33 L163.39 475.79 L165.6 476.3 L167.77 476.88 L169.89 477.53 L172.02 478.32 L174.12 479.31 L176.05 480.46 L177.72 481.8 L179.22 483.51 L180.56 485.41 L181.7 487.34 L182.68 489.34 L183.56 491.43 L184.37 493.56 L185.15 495.68 L185.91 497.8 L186.63 499.94 L187.29 502.09 L187.89 504.26 L188.43 506.44 L188.94 508.64 L189.41 510.85 L189.83 513.07 L190.2 515.28 L190.53 517.5 L190.84 519.73 L191.13 521.96 L191.41 524.19 L191.67 526.42 L191.92 528.66 L192.16 530.9 L192.39 533.14 L192.61 535.39 L192.83 537.63 L193.05 539.88 L193.26 542.12 L193.48 544.37 L193.69 546.61 L193.92 548.86 L194.15 551.1 L194.38 553.34 L194.63 555.58 L194.88 557.82 L195.14 560.05 L195.39 562.29 L195.64 564.53 L195.9 566.77 L196.15 569.01 L196.41 571.24 L196.66 573.48 L196.92 575.72 L197.17 577.96 L197.43 580.19 L197.69 582.43 L197.95 584.67 L198.21 586.9 L198.47 589.14 L198.73 591.38 L198.99 593.62 L199.25 595.85 L199.51 598.09 L199.77 600.33 L200.04 602.56 L200.3 604.8" fill="none" stroke="#9a9a9a" stroke-width="1.2" stroke-linejoin="round" stroke-dasharray="8 4" />
<path d="M38.2 466.9 L40.45 467 L42.7 467.1 L44.95 467.2 L47.2 467.3 L49.45 467.4 L51.7 467.5 L53.95 467.61 L56.2 467.71 L58.45 467.82 L60.7 467.93 L62.95 468.03 L65.2 468.14 L67.45 468.25 L69.7 468.36 L71.95 468.47 L74.19 468.59 L76.44 468.7 L78.69 468.81 L80.94 468.93 L83.19 469.04 L85.44 469.16 L87.69 469.28 L89.94 469.4 L92.19 469.51 L94.44 469.63 L96.69 469.74 L98.94 469.86 L101.19 469.97 L103.44 470.08 L105.69 470.19 L107.94 470.31 L110.19 470.42 L112.44 470.54 L114.69 470.66 L116.94 470.78 L119.19 470.9 L121.44 471.03 L123.69 471.16 L125.93 471.3 L128.18 471.44 L130.43 471.59 L132.67 471.75 L134.92 471.91 L137.16 472.08 L139.4 472.25 L141.65 472.44 L143.89 472.64 L146.14 472.86 L148.38 473.1 L150.62 473.36 L152.86 473.64 L155.09 473.94 L157.31 474.27 L159.53 474.63 L161.76 475.03 L163.99 475.49 L166.2 476 L168.37 476.58 L170.49 477.23 L172.62 478.02 L174.72 479.01 L176.65 480.16 L178.32 481.5 L179.82 483.21 L181.16 485.11 L182.3 487.04 L183.28 489.04 L184.16 491.13 L184.97 493.26 L185.75 495.38 L186.51 497.5 L187.23 499.64 L187.89 501.79 L188.49 503.96 L189.03 506.14 L189.54 508.34 L190.01 510.55 L190.43 512.77 L190.8 514.98 L191.13 517.2 L191.44 519.43 L191.73 521.66 L192.01 523.89 L192.27 526.12 L192.52 528.36 L192.76 530.6 L192.99 532.84 L193.21 535.09 L193.43 537.33 L193.65 539.58 L193.86 541.82 L194.08 544.07 L194.29 546.31 L194.52 548.56 L194.75 550.8 L194.98 553.04 L195.23 555.28 L195.48 557.52 L195.74 559.75 L195.99 561.99 L196.24 564.23 L196.5 566.47 L196.75 568.71 L197.01 570.94 L197.26 573.18 L197.52 575.42 L197.77 577.66 L198.03 579.89 L198.29 582.13 L198.55 584.37 L198.81 586.6 L199.07 588.84 L199.33 591.08 L199.59 593.32 L199.85 595.55 L200.11 597.79 L200.37 600.03 L200.64 602.26 L200.9 604.5" fill="none" stroke="#9a9a9a" stroke-width="1.6" stroke-linejoin="round" />
<path d="M37.6 466 L39.93 466.08 L42.26 466.16 L44.58 466.24 L46.91 466.32 L49.24 466.4 L51.57 466.49 L53.9 466.58 L56.22 466.67 L58.55 466.76 L60.88 466.85 L63.21 466.94 L65.53 467.04 L67.86 467.14 L70.19 467.24 L72.51 467.34 L74.84 467.44 L77.17 467.54 L79.49 467.64 L81.82 467.75 L84.15 467.86 L86.47 467.96 L88.8 468.07 L91.13 468.18 L93.45 468.29 L95.78 468.4 L98.11 468.51 L100.43 468.62 L102.76 468.74 L105.09 468.85 L107.42 468.97 L109.74 469.09 L112.07 469.21 L114.4 469.33 L116.72 469.46 L119.05 469.59 L121.37 469.72 L123.7 469.86 L126.02 470 L128.35 470.14 L130.67 470.29 L133 470.45 L135.32 470.61 L137.64 470.77 L139.96 470.94 L142.28 471.12 L144.61 471.32 L146.93 471.53 L149.25 471.75 L151.57 471.99 L153.88 472.24 L156.19 472.51 L158.5 472.8 L160.82 473.1 L163.15 473.41 L165.46 473.76 L167.77 474.13 L170.07 474.55 L172.33 475.02 L174.57 475.54 L176.81 476.2 L179.03 477.02 L181.17 477.97 L183.19 479.04 L185.16 480.34 L186.99 481.86 L188.57 483.5 L189.93 485.37 L191.12 487.42 L192.15 489.52 L193.05 491.66 L193.86 493.86 L194.56 496.09 L195.16 498.33 L195.66 500.6 L196.11 502.9 L196.54 505.19 L196.99 507.48 L197.45 509.76 L197.88 512.05 L198.26 514.35 L198.58 516.65 L198.87 518.96 L199.14 521.27 L199.39 523.58 L199.63 525.89 L199.86 528.21 L200.08 530.53 L200.29 532.85 L200.5 535.17 L200.7 537.49 L200.89 539.82 L201.08 542.14 L201.27 544.47 L201.46 546.79 L201.66 549.11 L201.86 551.44 L202.06 553.76 L202.27 556.08 L202.48 558.4 L202.7 560.72 L202.91 563.04 L203.12 565.36 L203.33 567.68 L203.54 570 L203.75 572.32 L203.96 574.64 L204.16 576.96 L204.37 579.28 L204.58 581.6 L204.78 583.92 L204.99 586.24 L205.19 588.56 L205.4 590.88 L205.6 593.2 L205.8 595.52 L206 597.84 L206.2 600.16 L206.4 602.48 L206.6 604.8" fill="none" stroke="#f0b323" stroke-width="1.2" stroke-linejoin="round" stroke-dasharray="8 4" />
<path d="M38.2 465.7 L40.53 465.78 L42.86 465.86 L45.18 465.94 L47.51 466.02 L49.84 466.1 L52.17 466.19 L54.5 466.28 L56.82 466.37 L59.15 466.46 L61.48 466.55 L63.81 466.64 L66.13 466.74 L68.46 466.84 L70.79 466.94 L73.11 467.04 L75.44 467.14 L77.77 467.24 L80.09 467.34 L82.42 467.45 L84.75 467.56 L87.07 467.66 L89.4 467.77 L91.73 467.88 L94.05 467.99 L96.38 468.1 L98.71 468.21 L101.03 468.32 L103.36 468.44 L105.69 468.55 L108.02 468.67 L110.34 468.79 L112.67 468.91 L115 469.03 L117.32 469.16 L119.65 469.29 L121.97 469.42 L124.3 469.56 L126.62 469.7 L128.95 469.84 L131.27 469.99 L133.6 470.15 L135.92 470.31 L138.24 470.47 L140.56 470.64 L142.88 470.82 L145.21 471.02 L147.53 471.23 L149.85 471.45 L152.17 471.69 L154.48 471.94 L156.79 472.21 L159.1 472.5 L161.42 472.8 L163.75 473.11 L166.06 473.46 L168.37 473.83 L170.67 474.25 L172.93 474.72 L175.17 475.24 L177.41 475.9 L179.63 476.72 L181.77 477.67 L183.79 478.74 L185.76 480.04 L187.59 481.56 L189.17 483.2 L190.53 485.07 L191.72 487.12 L192.75 489.22 L193.65 491.36 L194.46 493.56 L195.16 495.79 L195.76 498.03 L196.26 500.3 L196.71 502.6 L197.14 504.89 L197.59 507.18 L198.05 509.46 L198.48 511.75 L198.86 514.05 L199.18 516.35 L199.47 518.66 L199.74 520.97 L199.99 523.28 L200.23 525.59 L200.46 527.91 L200.68 530.23 L200.89 532.55 L201.1 534.87 L201.3 537.19 L201.49 539.52 L201.68 541.84 L201.87 544.17 L202.06 546.49 L202.26 548.81 L202.46 551.14 L202.66 553.46 L202.87 555.78 L203.08 558.1 L203.3 560.42 L203.51 562.74 L203.72 565.06 L203.93 567.38 L204.14 569.7 L204.35 572.02 L204.56 574.34 L204.76 576.66 L204.97 578.98 L205.18 581.3 L205.38 583.62 L205.59 585.94 L205.79 588.26 L206 590.58 L206.2 592.9 L206.4 595.22 L206.6 597.54 L206.8 599.86 L207 602.18 L207.2 604.5" fill="none" stroke="#f0b323" stroke-width="1.7" stroke-linejoin="round" />
</g>
<line x1="189.5" y1="492" x2="192.37" y2="500.47" stroke="#f0b323" stroke-width="0.7" stroke-dasharray="2 1.4"/>
<polygon points="193.4,503.5 191.05,500.92 193.7,500.02" fill="#f0b323" />
<line x1="201.8" y1="503.5" x2="198.58" y2="494.51" stroke="#f0b323" stroke-width="0.7"/>
<polygon points="197.5,491.5 199.9,494.04 197.26,494.98" fill="#f0b323" />
<line x1="196.3" y1="574.5" x2="197.26" y2="583.32" stroke="#9a9a9a" stroke-width="0.7" stroke-dasharray="2 1.4"/>
<polygon points="197.6,586.5 195.86,583.47 198.65,583.17" fill="#9a9a9a" />
<line x1="203.2" y1="587" x2="202.02" y2="578.17" stroke="#9a9a9a" stroke-width="0.7"/>
<polygon points="201.6,575 203.41,577.99 200.64,578.36" fill="#9a9a9a" />
<line x1="41" y1="483.2" x2="60.7" y2="483.2" stroke="#9a9a9a" stroke-width="1.3" stroke-dasharray="7.1 7.3"/>
<text x="66.5" y="486.6" font-size="10.3" text-anchor="start" fill="#222" >Control</text>
<line x1="41" y1="495.6" x2="60.7" y2="495.6" stroke="#9a9a9a" stroke-width="1.5" />
<text x="66.5" y="499" font-size="10.3" text-anchor="start" fill="#222" >Control</text>
<line x1="109.4" y1="483.2" x2="130.7" y2="483.2" stroke="#f0b323" stroke-width="1.4" stroke-dasharray="7.1 7.3"/>
<text x="135.7" y="486.6" font-size="10.3" text-anchor="start" fill="#222" >DCl</text>
<line x1="109.4" y1="495.6" x2="130.7" y2="495.6" stroke="#f0b323" stroke-width="1.6" />
<text x="135.7" y="499" font-size="10.3" text-anchor="start" fill="#222" >DCl</text>
<text x="213.6" y="474" font-size="10" text-anchor="end" fill="#222">1.04 cm<tspan font-size="6.5" dy="-4">2</tspan></text>
<line x1="40.2" y1="518.6" x2="192" y2="518.6" stroke="#1e1e1e" stroke-width="1.5" />
<line x1="40.2" y1="543.9" x2="192" y2="543.9" stroke="#2a2a2a" stroke-width="1.3" />
<line x1="40.2" y1="600.2" x2="192" y2="600.2" stroke="#6a6a6a" stroke-width="1.9" />
<text x="89.3" y="529.2" font-size="9.4" text-anchor="middle" fill="#222"><tspan font-style="italic">V</tspan><tspan font-size="6.2" dy="1.88">OC</tspan></text>
<text x="89.3" y="540.2" font-size="9.4" text-anchor="middle" fill="#222" >[V]</text>
<text x="114.1" y="529.2" font-size="9.4" text-anchor="middle" fill="#222" >FF</text>
<text x="114.1" y="540.2" font-size="9.4" text-anchor="middle" fill="#222" >[%]</text>
<text x="146.8" y="529.2" font-size="9.4" text-anchor="middle" fill="#222"><tspan font-style="italic">J</tspan><tspan font-size="6.2" dy="1.88">SC</tspan></text>
<text x="146.8" y="540.2" font-size="9.4" text-anchor="middle" fill="#222">[mA cm<tspan font-size="5.83" dy="-3">−2</tspan><tspan dy="3">]</tspan></text>
<text x="181" y="529.2" font-size="9.4" text-anchor="middle" fill="#222" >PCE</text>
<text x="181" y="540.2" font-size="9.4" text-anchor="middle" fill="#222" >[%]</text>
<text x="58.3" y="529.2" font-size="9.4" text-anchor="middle" fill="#222" >W/O</text>
<text x="58.3" y="540.2" font-size="9.4" text-anchor="middle" fill="#222" >poling</text>
<text x="89.3" y="554.8" font-size="9.4" text-anchor="middle" fill="#222" >1.834</text>
<text x="114.1" y="554.8" font-size="9.4" text-anchor="middle" fill="#222" >76.3</text>
<text x="146.8" y="554.8" font-size="9.4" text-anchor="middle" fill="#222" >20.1</text>
<text x="181" y="554.8" font-size="9.4" text-anchor="middle" fill="#222" >28.1</text>
<text x="89.3" y="568.6" font-size="9.4" text-anchor="middle" fill="#222" >1.828</text>
<text x="114.1" y="568.6" font-size="9.4" text-anchor="middle" fill="#222" >77.2</text>
<text x="146.8" y="568.6" font-size="9.4" text-anchor="middle" fill="#222" >20.1</text>
<text x="181" y="568.6" font-size="9.4" text-anchor="middle" fill="#222" >28.4</text>
<text x="89.3" y="582.5" font-size="9.4" text-anchor="middle" fill="#222" >1.897</text>
<text x="114.1" y="582.5" font-size="9.4" text-anchor="middle" fill="#222" >79.1</text>
<text x="146.8" y="582.5" font-size="9.4" text-anchor="middle" fill="#222" >20.3</text>
<text x="181" y="582.5" font-size="9.4" text-anchor="middle" fill="#222" >30.5</text>
<text x="89.3" y="596.2" font-size="9.4" text-anchor="middle" fill="#222" >1.896</text>
<text x="114.1" y="596.2" font-size="9.4" text-anchor="middle" fill="#222" >79.4</text>
<text x="146.8" y="596.2" font-size="9.4" text-anchor="middle" fill="#222" >20.3</text>
<text x="181" y="596.2" font-size="9.4" text-anchor="middle" fill="#222" >30.6</text>
<text x="58.5" y="561.5" font-size="9.4" text-anchor="middle" fill="#222" >Control</text>
<text x="58.5" y="589.8" font-size="9.4" text-anchor="middle" fill="#222" >DCl</text>
<text x="0.3" y="462.9" font-size="26.5" text-anchor="start" fill="#231815" >e</text>
<text x="262.7" y="618" font-size="12.2" text-anchor="middle" fill="#1a1a1a" >0.0</text>
<text x="289.9" y="618" font-size="12.2" text-anchor="middle" fill="#1a1a1a" >0.3</text>
<text x="317.1" y="618" font-size="12.2" text-anchor="middle" fill="#1a1a1a" >0.6</text>
<text x="344.3" y="618" font-size="12.2" text-anchor="middle" fill="#1a1a1a" >0.9</text>
<text x="371.5" y="618" font-size="12.2" text-anchor="middle" fill="#1a1a1a" >1.2</text>
<text x="398.7" y="618" font-size="12.2" text-anchor="middle" fill="#1a1a1a" >1.5</text>
<text x="425.91" y="618" font-size="12.2" text-anchor="middle" fill="#1a1a1a" >1.8</text>
<text x="259.8" y="609.3" font-size="12.2" text-anchor="end" fill="#1a1a1a" >0</text>
<text x="259.8" y="575" font-size="12.2" text-anchor="end" fill="#1a1a1a" >5</text>
<text x="259.8" y="540.7" font-size="12.2" text-anchor="end" fill="#1a1a1a" >10</text>
<text x="259.8" y="506.4" font-size="12.2" text-anchor="end" fill="#1a1a1a" >15</text>
<text x="259.8" y="472.1" font-size="12.2" text-anchor="end" fill="#1a1a1a" >20</text>
<text x="351.65" y="632.6" font-size="12.7" text-anchor="middle" fill="#1a1a1a" >Voltage (V)</text>
<text transform="translate(242.1,533.3) rotate(-90)" font-size="12.3" text-anchor="middle" fill="#1a1a1a">Courrent density (mA cm<tspan font-size="7.2" dy="-4.8" letter-spacing="-0.4">−2</tspan><tspan dy="4.8">)</tspan></text>
<clipPath id="cf"><rect x="262.7" y="461.8" width="177.90000000000003" height="143.3"/></clipPath>
<g clip-path="url(#cf)">
<path d="M261.4 466.1 L263.8 466.14 L266.19 466.18 L268.59 466.22 L270.99 466.26 L273.38 466.3 L275.78 466.34 L278.18 466.39 L280.58 466.43 L282.97 466.48 L285.37 466.53 L287.77 466.57 L290.16 466.62 L292.56 466.67 L294.96 466.72 L297.35 466.77 L299.75 466.82 L302.15 466.87 L304.54 466.93 L306.94 466.98 L309.34 467.04 L311.73 467.09 L314.13 467.15 L316.53 467.21 L318.92 467.27 L321.32 467.33 L323.72 467.39 L326.11 467.46 L328.51 467.52 L330.91 467.58 L333.3 467.65 L335.7 467.72 L338.09 467.78 L340.49 467.85 L342.89 467.92 L345.28 467.99 L347.68 468.05 L350.08 468.12 L352.47 468.2 L354.87 468.27 L357.27 468.35 L359.66 468.44 L362.06 468.53 L364.45 468.63 L366.85 468.74 L369.24 468.86 L371.63 468.98 L374.03 469.12 L376.42 469.26 L378.82 469.42 L381.21 469.58 L383.6 469.74 L385.99 469.92 L388.38 470.1 L390.78 470.27 L393.19 470.45 L395.59 470.65 L397.98 470.88 L400.36 471.16 L402.71 471.49 L405.05 471.94 L407.41 472.63 L409.64 473.53 L411.65 474.67 L413.52 476.26 L415.14 478.05 L416.56 479.97 L417.8 482.07 L418.77 484.24 L419.51 486.5 L420.12 488.83 L420.7 491.18 L421.28 493.51 L421.84 495.84 L422.38 498.18 L422.89 500.52 L423.37 502.87 L423.83 505.22 L424.27 507.58 L424.69 509.94 L425.09 512.31 L425.44 514.68 L425.77 517.05 L426.07 519.42 L426.36 521.8 L426.64 524.18 L426.9 526.56 L427.16 528.94 L427.41 531.33 L427.64 533.71 L427.88 536.1 L428.1 538.49 L428.33 540.88 L428.55 543.26 L428.77 545.65 L428.98 548.04 L429.2 550.43 L429.43 552.82 L429.65 555.21 L429.88 557.6 L430.12 559.98 L430.36 562.37 L430.6 564.75 L430.84 567.14 L431.09 569.52 L431.33 571.91 L431.57 574.29 L431.81 576.68 L432.05 579.06 L432.29 581.45 L432.54 583.83 L432.78 586.22 L433.02 588.6 L433.26 590.99 L433.5 593.37 L433.74 595.76 L433.98 598.14 L434.22 600.53 L434.46 602.91 L434.7 605.3" fill="none" stroke="#f0b323" stroke-width="1.4" stroke-linejoin="round" stroke-dasharray="8 4" />
<path d="M262.7 465.3 L265.1 465.34 L267.49 465.38 L269.89 465.42 L272.29 465.46 L274.68 465.5 L277.08 465.54 L279.48 465.59 L281.88 465.63 L284.27 465.68 L286.67 465.73 L289.07 465.77 L291.46 465.82 L293.86 465.87 L296.26 465.92 L298.65 465.97 L301.05 466.02 L303.45 466.07 L305.84 466.13 L308.24 466.18 L310.64 466.24 L313.03 466.29 L315.43 466.35 L317.83 466.41 L320.22 466.47 L322.62 466.53 L325.02 466.59 L327.41 466.66 L329.81 466.72 L332.21 466.78 L334.6 466.85 L337 466.92 L339.39 466.98 L341.79 467.05 L344.19 467.12 L346.58 467.19 L348.98 467.25 L351.38 467.32 L353.77 467.4 L356.17 467.47 L358.57 467.55 L360.96 467.64 L363.36 467.73 L365.75 467.83 L368.15 467.94 L370.54 468.06 L372.93 468.18 L375.33 468.32 L377.72 468.46 L380.12 468.62 L382.51 468.78 L384.9 468.94 L387.29 469.12 L389.68 469.3 L392.08 469.47 L394.49 469.65 L396.89 469.85 L399.28 470.08 L401.66 470.36 L404.01 470.69 L406.35 471.14 L408.71 471.83 L410.94 472.73 L412.95 473.87 L414.82 475.46 L416.44 477.25 L417.86 479.17 L419.1 481.27 L420.07 483.44 L420.81 485.7 L421.42 488.03 L422 490.38 L422.58 492.71 L423.14 495.04 L423.68 497.38 L424.19 499.72 L424.67 502.07 L425.13 504.42 L425.57 506.78 L425.99 509.14 L426.39 511.51 L426.74 513.88 L427.07 516.25 L427.37 518.62 L427.66 521 L427.94 523.38 L428.2 525.76 L428.46 528.14 L428.71 530.53 L428.94 532.91 L429.18 535.3 L429.4 537.69 L429.63 540.08 L429.85 542.46 L430.07 544.85 L430.28 547.24 L430.5 549.63 L430.73 552.02 L430.95 554.41 L431.18 556.8 L431.42 559.18 L431.66 561.57 L431.9 563.95 L432.14 566.34 L432.39 568.72 L432.63 571.11 L432.87 573.49 L433.11 575.88 L433.35 578.26 L433.59 580.65 L433.84 583.03 L434.08 585.42 L434.32 587.8 L434.56 590.19 L434.8 592.57 L435.04 594.96 L435.28 597.34 L435.52 599.73 L435.76 602.11 L436 604.5" fill="none" stroke="#f0b323" stroke-width="1.7" stroke-linejoin="round" />
</g>
<line x1="411.2" y1="478.5" x2="416.07" y2="484.95" stroke="#f0b323" stroke-width="0.7" stroke-dasharray="2 1.4"/>
<polygon points="418,487.5 414.95,485.79 417.19,484.1" fill="#f0b323" />
<line x1="424.8" y1="483.5" x2="420.17" y2="477.09" stroke="#f0b323" stroke-width="0.7"/>
<polygon points="418.3,474.5 421.31,476.27 419.04,477.91" fill="#f0b323" />
<line x1="265.3" y1="475.3" x2="287" y2="475.3" stroke="#f0b323" stroke-width="1.5" stroke-dasharray="7.1 7.3"/>
<text x="291.2" y="478.7" font-size="10.3" text-anchor="start" fill="#222" >Poling-Forward</text>
<line x1="265.3" y1="488.7" x2="287" y2="488.7" stroke="#f0b323" stroke-width="1.6" />
<text x="291.2" y="492.1" font-size="10.3" text-anchor="start" fill="#222" >Poling-Reverse</text>
<line x1="282.8" y1="534" x2="410.4" y2="534" stroke="#666" stroke-width="1.9" />
<line x1="282.8" y1="559.9" x2="410.4" y2="559.9" stroke="#666" stroke-width="1.9" />
<line x1="282.8" y1="588.4" x2="410.4" y2="588.4" stroke="#222" stroke-width="1.4" />
<text x="299.5" y="544.6" font-size="9.4" text-anchor="middle" fill="#222"><tspan font-style="italic">V</tspan><tspan font-size="6.2" dy="1.88">OC</tspan></text>
<text x="299.5" y="557" font-size="9.4" text-anchor="middle" fill="#222" >[V]</text>
<text x="329.4" y="544.6" font-size="9.4" text-anchor="middle" fill="#222" >FF</text>
<text x="329.4" y="557" font-size="9.4" text-anchor="middle" fill="#222" >[%]</text>
<text x="363.7" y="544.6" font-size="9.4" text-anchor="middle" fill="#222"><tspan font-style="italic">J</tspan><tspan font-size="6.2" dy="1.88">SC</tspan></text>
<text x="363.7" y="557" font-size="9.4" text-anchor="middle" fill="#222">[mA cm<tspan font-size="5.83" dy="-3">−2</tspan><tspan dy="3">]</tspan></text>
<text x="398.6" y="544.6" font-size="9.4" text-anchor="middle" fill="#222" >PCE</text>
<text x="398.6" y="557" font-size="9.4" text-anchor="middle" fill="#222" >[%]</text>
<text x="299.5" y="571" font-size="9.3" text-anchor="middle" fill="#222" >1.903</text>
<text x="329.4" y="571" font-size="9.3" text-anchor="middle" fill="#222" >79.7</text>
<text x="363.7" y="571" font-size="9.3" text-anchor="middle" fill="#222" >20.4</text>
<text x="398.6" y="571" font-size="9.3" text-anchor="middle" fill="#222" >30.9</text>
<text x="299.5" y="585" font-size="9.3" text-anchor="middle" fill="#222" >1.905</text>
<text x="329.4" y="585" font-size="9.3" text-anchor="middle" fill="#222" >80.1</text>
<text x="363.7" y="585" font-size="9.3" text-anchor="middle" fill="#222" >20.4</text>
<text x="398.6" y="585" font-size="9.3" text-anchor="middle" fill="#222" >31.1</text>
<text x="224.6" y="465.1" font-size="26.5" text-anchor="start" fill="#231815" >f</text>
<text x="486.9" y="618" font-size="12.2" text-anchor="middle" fill="#1a1a1a" >0.0</text>
<text x="531.42" y="618" font-size="12.2" text-anchor="middle" fill="#1a1a1a" >0.5</text>
<text x="575.95" y="618" font-size="12.2" text-anchor="middle" fill="#1a1a1a" >1.0</text>
<text x="620.47" y="618" font-size="12.2" text-anchor="middle" fill="#1a1a1a" >1.5</text>
<text x="665" y="618" font-size="12.2" text-anchor="middle" fill="#1a1a1a" >2.0</text>
<text x="483.7" y="609.7" font-size="12.2" text-anchor="end" fill="#1a1a1a" >0</text>
<text x="483.7" y="573.78" font-size="12.2" text-anchor="end" fill="#1a1a1a" >5</text>
<text x="483.7" y="537.85" font-size="12.2" text-anchor="end" fill="#1a1a1a" >10</text>
<text x="483.7" y="501.93" font-size="12.2" text-anchor="end" fill="#1a1a1a" >15</text>
<text x="483.7" y="466" font-size="12.2" text-anchor="end" fill="#1a1a1a" >20</text>
<text x="575.95" y="632.6" font-size="12.7" text-anchor="middle" fill="#1a1a1a" >Voltage (V)</text>
<text transform="translate(466.1,533.3) rotate(-90)" font-size="12.3" text-anchor="middle" fill="#1a1a1a">Current density (mA cm<tspan font-size="7.2" dy="-4.8" letter-spacing="-0.4">−2</tspan><tspan dy="4.8">)</tspan></text>
<clipPath id="cg"><rect x="486.9" y="461.8" width="178.10000000000002" height="143.7"/></clipPath>
<g clip-path="url(#cg)">
<path d="M486.9 466 L489.16 466.07 L491.42 466.15 L493.67 466.23 L495.93 466.31 L498.19 466.38 L500.45 466.46 L502.71 466.54 L504.97 466.63 L507.22 466.71 L509.48 466.79 L511.74 466.88 L514 466.96 L516.25 467.05 L518.51 467.14 L520.77 467.22 L523.03 467.31 L525.29 467.4 L527.54 467.49 L529.8 467.58 L532.06 467.67 L534.32 467.77 L536.57 467.86 L538.83 467.95 L541.09 468.05 L543.35 468.14 L545.6 468.23 L547.86 468.32 L550.12 468.41 L552.38 468.5 L554.64 468.6 L556.89 468.69 L559.15 468.79 L561.41 468.89 L563.67 469 L565.92 469.1 L568.18 469.22 L570.44 469.34 L572.69 469.46 L574.95 469.6 L577.2 469.74 L579.46 469.89 L581.71 470.06 L583.96 470.24 L586.22 470.43 L588.46 470.64 L590.71 470.88 L592.95 471.14 L595.2 471.44 L597.43 471.77 L599.66 472.14 L601.88 472.53 L604.1 472.97 L606.32 473.46 L608.52 473.99 L610.71 474.58 L612.86 475.23 L615 475.94 L617.15 476.75 L619.24 477.68 L621.21 478.72 L623.04 479.96 L624.79 481.45 L626.41 483.08 L627.87 484.77 L629.22 486.57 L630.47 488.49 L631.6 490.46 L632.63 492.45 L633.56 494.51 L634.42 496.61 L635.24 498.72 L636.04 500.84 L636.79 502.97 L637.5 505.12 L638.16 507.28 L638.79 509.45 L639.38 511.63 L639.92 513.82 L640.43 516.02 L640.92 518.22 L641.39 520.43 L641.84 522.64 L642.29 524.85 L642.72 527.07 L643.14 529.29 L643.55 531.51 L643.96 533.74 L644.35 535.96 L644.74 538.19 L645.13 540.42 L645.51 542.65 L645.89 544.88 L646.27 547.11 L646.65 549.34 L647.03 551.57 L647.41 553.8 L647.8 556.02 L648.19 558.25 L648.58 560.47 L648.98 562.7 L649.38 564.92 L649.77 567.15 L650.16 569.37 L650.56 571.6 L650.95 573.82 L651.34 576.05 L651.73 578.27 L652.11 580.5 L652.5 582.73 L652.89 584.95 L653.27 587.18 L653.65 589.41 L654.03 591.63 L654.42 593.86 L654.79 596.09 L655.17 598.32 L655.55 600.54 L655.93 602.77 L656.3 605" fill="none" stroke="#5f619c" stroke-width="1.4" stroke-linejoin="round" stroke-dasharray="8 4.5" />
<path d="M486.9 465.8 L489.22 465.86 L491.53 465.92 L493.85 465.98 L496.16 466.04 L498.48 466.1 L500.8 466.16 L503.11 466.23 L505.43 466.29 L507.74 466.35 L510.06 466.42 L512.37 466.48 L514.69 466.55 L517.01 466.61 L519.32 466.68 L521.64 466.75 L523.95 466.82 L526.27 466.88 L528.58 466.95 L530.9 467.02 L533.22 467.09 L535.53 467.16 L537.85 467.23 L540.16 467.31 L542.48 467.38 L544.79 467.45 L547.11 467.52 L549.42 467.59 L551.74 467.67 L554.06 467.74 L556.37 467.81 L558.69 467.89 L561 467.96 L563.32 468.04 L565.63 468.11 L567.95 468.19 L570.26 468.27 L572.58 468.35 L574.89 468.43 L577.21 468.52 L579.52 468.6 L581.84 468.69 L584.15 468.77 L586.47 468.86 L588.78 468.95 L591.1 469.04 L593.42 469.13 L595.73 469.21 L598.05 469.3 L600.37 469.4 L602.68 469.5 L604.99 469.63 L607.3 469.79 L609.61 469.98 L611.94 470.25 L614.25 470.59 L616.54 471 L618.77 471.49 L620.95 472.17 L623.08 473.18 L625.08 474.35 L626.94 475.72 L628.68 477.31 L630.22 479 L631.62 480.84 L632.91 482.8 L634.08 484.81 L635.14 486.85 L636.11 488.96 L637 491.12 L637.82 493.28 L638.58 495.47 L639.29 497.67 L639.96 499.9 L640.59 502.13 L641.19 504.36 L641.78 506.61 L642.34 508.86 L642.88 511.11 L643.37 513.38 L643.82 515.64 L644.25 517.91 L644.66 520.19 L645.05 522.47 L645.43 524.75 L645.8 527.04 L646.15 529.33 L646.5 531.62 L646.83 533.91 L647.16 536.21 L647.49 538.5 L647.8 540.8 L648.12 543.1 L648.44 545.4 L648.75 547.69 L649.07 549.99 L649.39 552.29 L649.71 554.58 L650.04 556.88 L650.38 559.17 L650.72 561.46 L651.06 563.75 L651.41 566.05 L651.75 568.34 L652.09 570.63 L652.43 572.92 L652.78 575.21 L653.12 577.5 L653.46 579.79 L653.8 582.08 L654.14 584.38 L654.48 586.67 L654.82 588.96 L655.16 591.25 L655.5 593.54 L655.84 595.83 L656.18 598.12 L656.52 600.42 L656.86 602.71 L657.2 605" fill="none" stroke="#5f619c" stroke-width="1.6" stroke-linejoin="round" />
</g>
<line x1="569.2" y1="500.5" x2="591" y2="500.5" stroke="#5f619c" stroke-width="1.4" stroke-dasharray="7.1 7.3"/>
<text x="595.4" y="503.9" font-size="10.3" text-anchor="start" fill="#222" >Forward</text>
<line x1="569.2" y1="512.9" x2="591" y2="512.9" stroke="#5f619c" stroke-width="1.5" />
<text x="595.4" y="516.3" font-size="10.3" text-anchor="start" fill="#222" >Reverse</text>
<line x1="505.4" y1="534" x2="633" y2="534" stroke="#666" stroke-width="1.9" />
<line x1="505.4" y1="559.9" x2="633" y2="559.9" stroke="#666" stroke-width="1.9" />
<line x1="505.4" y1="588.4" x2="633" y2="588.4" stroke="#222" stroke-width="1.4" />
<text x="522.8" y="544.6" font-size="9.4" text-anchor="middle" fill="#222"><tspan font-style="italic">V</tspan><tspan font-size="6.2" dy="1.88">OC</tspan></text>
<text x="522.8" y="557" font-size="9.4" text-anchor="middle" fill="#222" >[V]</text>
<text x="552.4" y="544.6" font-size="9.4" text-anchor="middle" fill="#222" >FF</text>
<text x="552.4" y="557" font-size="9.4" text-anchor="middle" fill="#222" >[%]</text>
<text x="587" y="544.6" font-size="9.4" text-anchor="middle" fill="#222"><tspan font-style="italic">J</tspan><tspan font-size="6.2" dy="1.88">SC</tspan></text>
<text x="587" y="557" font-size="9.4" text-anchor="middle" fill="#222">[mA cm<tspan font-size="5.83" dy="-3">−2</tspan><tspan dy="3">]</tspan></text>
<text x="621.2" y="544.6" font-size="9.4" text-anchor="middle" fill="#222" >PCE</text>
<text x="621.2" y="557" font-size="9.4" text-anchor="middle" fill="#222" >[%]</text>
<text x="522.8" y="571" font-size="9.3" text-anchor="middle" fill="#222" >1.898</text>
<text x="552.4" y="571" font-size="9.3" text-anchor="middle" fill="#222" >72.5</text>
<text x="587" y="571" font-size="9.3" text-anchor="middle" fill="#222" >19.4</text>
<text x="621.2" y="571" font-size="9.3" text-anchor="middle" fill="#222" >26.7</text>
<text x="522.8" y="585" font-size="9.3" text-anchor="middle" fill="#222" >1.909</text>
<text x="552.4" y="585" font-size="9.3" text-anchor="middle" fill="#222" >76.8</text>
<text x="587" y="585" font-size="9.3" text-anchor="middle" fill="#222" >19.4</text>
<text x="621.2" y="585" font-size="9.3" text-anchor="middle" fill="#222" >28.4</text>
<rect x="499.5" y="482.2" width="33.3" height="41.7" fill="#1b1f4b"/>
<rect x="502.4" y="489.2" width="26.6" height="25.4" fill="#2b2752" stroke="#d5d9df" stroke-width="2.8"/>
<rect x="514.2" y="512.8" width="2.6" height="3.6" fill="#1b1f4b"/>
<rect x="514.2" y="485.3" width="2.8" height="3" fill="#d5d9df"/>
<line x1="504.5" y1="493.5" x2="513" y2="493.5" stroke="#6d6a8e" stroke-width="0.5" />
<line x1="504.5" y1="497" x2="513" y2="497" stroke="#6d6a8e" stroke-width="0.5" />
<line x1="504.5" y1="500.5" x2="513" y2="500.5" stroke="#6d6a8e" stroke-width="0.5" />
<line x1="504.5" y1="509" x2="513" y2="509" stroke="#6d6a8e" stroke-width="0.5" />
<line x1="517" y1="492.5" x2="527" y2="492.5" stroke="#6d6a8e" stroke-width="0.5" />
<line x1="517" y1="499.5" x2="527" y2="499.5" stroke="#6d6a8e" stroke-width="0.5" />
<line x1="517" y1="503.5" x2="527" y2="503.5" stroke="#6d6a8e" stroke-width="0.5" />
<line x1="517" y1="506.5" x2="527" y2="506.5" stroke="#6d6a8e" stroke-width="0.5" />
<line x1="517" y1="509.5" x2="527" y2="509.5" stroke="#6d6a8e" stroke-width="0.5" />
<text x="517.8" y="479" font-size="11.6" text-anchor="middle" fill="#8e1f24">4 cm<tspan font-size="7.3" dy="-4.4">2</tspan></text>
<text x="445.6" y="463.2" font-size="26.5" text-anchor="start" fill="#231815" >g</text>
<rect x="38.2" y="13.6" width="178.2" height="143.2" fill="none" stroke="#000" stroke-width="1.5"/>
<line x1="38.2" y1="156.8" x2="38.2" y2="153.6" stroke="#000" stroke-width="1.05"/>
<line x1="66.74" y1="156.8" x2="66.74" y2="153.6" stroke="#000" stroke-width="1.05"/>
<line x1="95.28" y1="156.8" x2="95.28" y2="153.6" stroke="#000" stroke-width="1.05"/>
<line x1="123.82" y1="156.8" x2="123.82" y2="153.6" stroke="#000" stroke-width="1.05"/>
<line x1="152.36" y1="156.8" x2="152.36" y2="153.6" stroke="#000" stroke-width="1.05"/>
<line x1="180.9" y1="156.8" x2="180.9" y2="153.6" stroke="#000" stroke-width="1.05"/>
<line x1="209.44" y1="156.8" x2="209.44" y2="153.6" stroke="#000" stroke-width="1.05"/>
<line x1="52.47" y1="156.8" x2="52.47" y2="154.9" stroke="#000" stroke-width="0.95"/>
<line x1="81.01" y1="156.8" x2="81.01" y2="154.9" stroke="#000" stroke-width="0.95"/>
<line x1="109.55" y1="156.8" x2="109.55" y2="154.9" stroke="#000" stroke-width="0.95"/>
<line x1="138.09" y1="156.8" x2="138.09" y2="154.9" stroke="#000" stroke-width="0.95"/>
<line x1="166.63" y1="156.8" x2="166.63" y2="154.9" stroke="#000" stroke-width="0.95"/>
<line x1="195.17" y1="156.8" x2="195.17" y2="154.9" stroke="#000" stroke-width="0.95"/>
<line x1="38.2" y1="156.8" x2="41.4" y2="156.8" stroke="#000" stroke-width="1.05"/>
<line x1="38.2" y1="124.98" x2="41.4" y2="124.98" stroke="#000" stroke-width="1.05"/>
<line x1="38.2" y1="93.15" x2="41.4" y2="93.15" stroke="#000" stroke-width="1.05"/>
<line x1="38.2" y1="61.33" x2="41.4" y2="61.33" stroke="#000" stroke-width="1.05"/>
<line x1="38.2" y1="29.5" x2="41.4" y2="29.5" stroke="#000" stroke-width="1.05"/>
<line x1="38.2" y1="140.89" x2="40.1" y2="140.89" stroke="#000" stroke-width="0.95"/>
<line x1="38.2" y1="109.06" x2="40.1" y2="109.06" stroke="#000" stroke-width="0.95"/>
<line x1="38.2" y1="77.24" x2="40.1" y2="77.24" stroke="#000" stroke-width="0.95"/>
<line x1="38.2" y1="45.41" x2="40.1" y2="45.41" stroke="#000" stroke-width="0.95"/>
<rect x="262.8" y="13.6" width="177.8" height="143.3" fill="none" stroke="#000" stroke-width="1.5"/>
<line x1="262.8" y1="156.9" x2="262.8" y2="153.7" stroke="#000" stroke-width="1.05"/>
<line x1="291.3" y1="156.9" x2="291.3" y2="153.7" stroke="#000" stroke-width="1.05"/>
<line x1="319.8" y1="156.9" x2="319.8" y2="153.7" stroke="#000" stroke-width="1.05"/>
<line x1="348.3" y1="156.9" x2="348.3" y2="153.7" stroke="#000" stroke-width="1.05"/>
<line x1="376.8" y1="156.9" x2="376.8" y2="153.7" stroke="#000" stroke-width="1.05"/>
<line x1="405.3" y1="156.9" x2="405.3" y2="153.7" stroke="#000" stroke-width="1.05"/>
<line x1="433.8" y1="156.9" x2="433.8" y2="153.7" stroke="#000" stroke-width="1.05"/>
<line x1="277.05" y1="156.9" x2="277.05" y2="155" stroke="#000" stroke-width="0.95"/>
<line x1="305.55" y1="156.9" x2="305.55" y2="155" stroke="#000" stroke-width="0.95"/>
<line x1="334.05" y1="156.9" x2="334.05" y2="155" stroke="#000" stroke-width="0.95"/>
<line x1="362.55" y1="156.9" x2="362.55" y2="155" stroke="#000" stroke-width="0.95"/>
<line x1="391.05" y1="156.9" x2="391.05" y2="155" stroke="#000" stroke-width="0.95"/>
<line x1="419.55" y1="156.9" x2="419.55" y2="155" stroke="#000" stroke-width="0.95"/>
<line x1="262.8" y1="156.9" x2="266" y2="156.9" stroke="#000" stroke-width="1.05"/>
<line x1="262.8" y1="123.4" x2="266" y2="123.4" stroke="#000" stroke-width="1.05"/>
<line x1="262.8" y1="89.9" x2="266" y2="89.9" stroke="#000" stroke-width="1.05"/>
<line x1="262.8" y1="56.4" x2="266" y2="56.4" stroke="#000" stroke-width="1.05"/>
<line x1="262.8" y1="22.9" x2="266" y2="22.9" stroke="#000" stroke-width="1.05"/>
<line x1="262.8" y1="140.15" x2="264.7" y2="140.15" stroke="#000" stroke-width="0.95"/>
<line x1="262.8" y1="106.65" x2="264.7" y2="106.65" stroke="#000" stroke-width="0.95"/>
<line x1="262.8" y1="73.15" x2="264.7" y2="73.15" stroke="#000" stroke-width="0.95"/>
<line x1="262.8" y1="39.65" x2="264.7" y2="39.65" stroke="#000" stroke-width="0.95"/>
<rect x="486.9" y="13.6" width="178.1" height="143.5" fill="none" stroke="#000" stroke-width="1.5"/>
<line x1="486.9" y1="157.1" x2="486.9" y2="153.9" stroke="#000" stroke-width="1.05"/>
<line x1="515.38" y1="157.1" x2="515.38" y2="153.9" stroke="#000" stroke-width="1.05"/>
<line x1="543.86" y1="157.1" x2="543.86" y2="153.9" stroke="#000" stroke-width="1.05"/>
<line x1="572.34" y1="157.1" x2="572.34" y2="153.9" stroke="#000" stroke-width="1.05"/>
<line x1="600.82" y1="157.1" x2="600.82" y2="153.9" stroke="#000" stroke-width="1.05"/>
<line x1="629.3" y1="157.1" x2="629.3" y2="153.9" stroke="#000" stroke-width="1.05"/>
<line x1="657.78" y1="157.1" x2="657.78" y2="153.9" stroke="#000" stroke-width="1.05"/>
<line x1="501.14" y1="157.1" x2="501.14" y2="155.2" stroke="#000" stroke-width="0.95"/>
<line x1="529.62" y1="157.1" x2="529.62" y2="155.2" stroke="#000" stroke-width="0.95"/>
<line x1="558.1" y1="157.1" x2="558.1" y2="155.2" stroke="#000" stroke-width="0.95"/>
<line x1="586.58" y1="157.1" x2="586.58" y2="155.2" stroke="#000" stroke-width="0.95"/>
<line x1="615.06" y1="157.1" x2="615.06" y2="155.2" stroke="#000" stroke-width="0.95"/>
<line x1="643.54" y1="157.1" x2="643.54" y2="155.2" stroke="#000" stroke-width="0.95"/>
<line x1="486.9" y1="157.1" x2="490.1" y2="157.1" stroke="#000" stroke-width="1.05"/>
<line x1="486.9" y1="125.2" x2="490.1" y2="125.2" stroke="#000" stroke-width="1.05"/>
<line x1="486.9" y1="93.3" x2="490.1" y2="93.3" stroke="#000" stroke-width="1.05"/>
<line x1="486.9" y1="61.4" x2="490.1" y2="61.4" stroke="#000" stroke-width="1.05"/>
<line x1="486.9" y1="29.5" x2="490.1" y2="29.5" stroke="#000" stroke-width="1.05"/>
<line x1="486.9" y1="141.15" x2="488.8" y2="141.15" stroke="#000" stroke-width="0.95"/>
<line x1="486.9" y1="109.25" x2="488.8" y2="109.25" stroke="#000" stroke-width="0.95"/>
<line x1="486.9" y1="77.35" x2="488.8" y2="77.35" stroke="#000" stroke-width="0.95"/>
<line x1="486.9" y1="45.45" x2="488.8" y2="45.45" stroke="#000" stroke-width="0.95"/>
<rect x="38.2" y="461.8" width="178" height="143.3" fill="none" stroke="#000" stroke-width="1.5"/>
<line x1="38.2" y1="605.1" x2="38.2" y2="601.9" stroke="#000" stroke-width="1.05"/>
<line x1="82.7" y1="605.1" x2="82.7" y2="601.9" stroke="#000" stroke-width="1.05"/>
<line x1="127.2" y1="605.1" x2="127.2" y2="601.9" stroke="#000" stroke-width="1.05"/>
<line x1="171.7" y1="605.1" x2="171.7" y2="601.9" stroke="#000" stroke-width="1.05"/>
<line x1="216.2" y1="605.1" x2="216.2" y2="601.9" stroke="#000" stroke-width="1.05"/>
<line x1="60.45" y1="605.1" x2="60.45" y2="603.2" stroke="#000" stroke-width="0.95"/>
<line x1="104.95" y1="605.1" x2="104.95" y2="603.2" stroke="#000" stroke-width="0.95"/>
<line x1="149.45" y1="605.1" x2="149.45" y2="603.2" stroke="#000" stroke-width="0.95"/>
<line x1="193.95" y1="605.1" x2="193.95" y2="603.2" stroke="#000" stroke-width="0.95"/>
<line x1="38.2" y1="605.1" x2="41.4" y2="605.1" stroke="#000" stroke-width="1.05"/>
<line x1="38.2" y1="570.8" x2="41.4" y2="570.8" stroke="#000" stroke-width="1.05"/>
<line x1="38.2" y1="536.5" x2="41.4" y2="536.5" stroke="#000" stroke-width="1.05"/>
<line x1="38.2" y1="502.2" x2="41.4" y2="502.2" stroke="#000" stroke-width="1.05"/>
<line x1="38.2" y1="467.9" x2="41.4" y2="467.9" stroke="#000" stroke-width="1.05"/>
<line x1="38.2" y1="587.95" x2="40.1" y2="587.95" stroke="#000" stroke-width="0.95"/>
<line x1="38.2" y1="553.65" x2="40.1" y2="553.65" stroke="#000" stroke-width="0.95"/>
<line x1="38.2" y1="519.35" x2="40.1" y2="519.35" stroke="#000" stroke-width="0.95"/>
<line x1="38.2" y1="485.05" x2="40.1" y2="485.05" stroke="#000" stroke-width="0.95"/>
<rect x="262.7" y="461.8" width="177.9" height="143.3" fill="none" stroke="#000" stroke-width="1.5"/>
<line x1="262.7" y1="605.1" x2="262.7" y2="601.9" stroke="#000" stroke-width="1.05"/>
<line x1="289.9" y1="605.1" x2="289.9" y2="601.9" stroke="#000" stroke-width="1.05"/>
<line x1="317.1" y1="605.1" x2="317.1" y2="601.9" stroke="#000" stroke-width="1.05"/>
<line x1="344.3" y1="605.1" x2="344.3" y2="601.9" stroke="#000" stroke-width="1.05"/>
<line x1="371.5" y1="605.1" x2="371.5" y2="601.9" stroke="#000" stroke-width="1.05"/>
<line x1="398.7" y1="605.1" x2="398.7" y2="601.9" stroke="#000" stroke-width="1.05"/>
<line x1="425.91" y1="605.1" x2="425.91" y2="601.9" stroke="#000" stroke-width="1.05"/>
<line x1="276.3" y1="605.1" x2="276.3" y2="603.2" stroke="#000" stroke-width="0.95"/>
<line x1="303.5" y1="605.1" x2="303.5" y2="603.2" stroke="#000" stroke-width="0.95"/>
<line x1="330.7" y1="605.1" x2="330.7" y2="603.2" stroke="#000" stroke-width="0.95"/>
<line x1="357.9" y1="605.1" x2="357.9" y2="603.2" stroke="#000" stroke-width="0.95"/>
<line x1="385.1" y1="605.1" x2="385.1" y2="603.2" stroke="#000" stroke-width="0.95"/>
<line x1="412.31" y1="605.1" x2="412.31" y2="603.2" stroke="#000" stroke-width="0.95"/>
<line x1="439.51" y1="605.1" x2="439.51" y2="603.2" stroke="#000" stroke-width="0.95"/>
<line x1="262.7" y1="605.1" x2="265.9" y2="605.1" stroke="#000" stroke-width="1.05"/>
<line x1="262.7" y1="570.8" x2="265.9" y2="570.8" stroke="#000" stroke-width="1.05"/>
<line x1="262.7" y1="536.5" x2="265.9" y2="536.5" stroke="#000" stroke-width="1.05"/>
<line x1="262.7" y1="502.2" x2="265.9" y2="502.2" stroke="#000" stroke-width="1.05"/>
<line x1="262.7" y1="467.9" x2="265.9" y2="467.9" stroke="#000" stroke-width="1.05"/>
<line x1="262.7" y1="587.95" x2="264.6" y2="587.95" stroke="#000" stroke-width="0.95"/>
<line x1="262.7" y1="553.65" x2="264.6" y2="553.65" stroke="#000" stroke-width="0.95"/>
<line x1="262.7" y1="519.35" x2="264.6" y2="519.35" stroke="#000" stroke-width="0.95"/>
<line x1="262.7" y1="485.05" x2="264.6" y2="485.05" stroke="#000" stroke-width="0.95"/>
<rect x="486.9" y="461.8" width="178.1" height="143.7" fill="none" stroke="#000" stroke-width="1.5"/>
<line x1="486.9" y1="605.5" x2="486.9" y2="602.3" stroke="#000" stroke-width="1.05"/>
<line x1="531.42" y1="605.5" x2="531.42" y2="602.3" stroke="#000" stroke-width="1.05"/>
<line x1="575.95" y1="605.5" x2="575.95" y2="602.3" stroke="#000" stroke-width="1.05"/>
<line x1="620.47" y1="605.5" x2="620.47" y2="602.3" stroke="#000" stroke-width="1.05"/>
<line x1="665" y1="605.5" x2="665" y2="602.3" stroke="#000" stroke-width="1.05"/>
<line x1="509.16" y1="605.5" x2="509.16" y2="603.6" stroke="#000" stroke-width="0.95"/>
<line x1="553.69" y1="605.5" x2="553.69" y2="603.6" stroke="#000" stroke-width="0.95"/>
<line x1="598.21" y1="605.5" x2="598.21" y2="603.6" stroke="#000" stroke-width="0.95"/>
<line x1="642.74" y1="605.5" x2="642.74" y2="603.6" stroke="#000" stroke-width="0.95"/>
<line x1="486.9" y1="605.5" x2="490.1" y2="605.5" stroke="#000" stroke-width="1.05"/>
<line x1="486.9" y1="569.58" x2="490.1" y2="569.58" stroke="#000" stroke-width="1.05"/>
<line x1="486.9" y1="533.65" x2="490.1" y2="533.65" stroke="#000" stroke-width="1.05"/>
<line x1="486.9" y1="497.73" x2="490.1" y2="497.73" stroke="#000" stroke-width="1.05"/>
<line x1="486.9" y1="461.8" x2="490.1" y2="461.8" stroke="#000" stroke-width="1.05"/>
<line x1="486.9" y1="587.54" x2="488.8" y2="587.54" stroke="#000" stroke-width="0.95"/>
<line x1="486.9" y1="551.61" x2="488.8" y2="551.61" stroke="#000" stroke-width="0.95"/>
<line x1="486.9" y1="515.69" x2="488.8" y2="515.69" stroke="#000" stroke-width="0.95"/>
<line x1="486.9" y1="479.76" x2="488.8" y2="479.76" stroke="#000" stroke-width="0.95"/>
</svg>
</body></html>
